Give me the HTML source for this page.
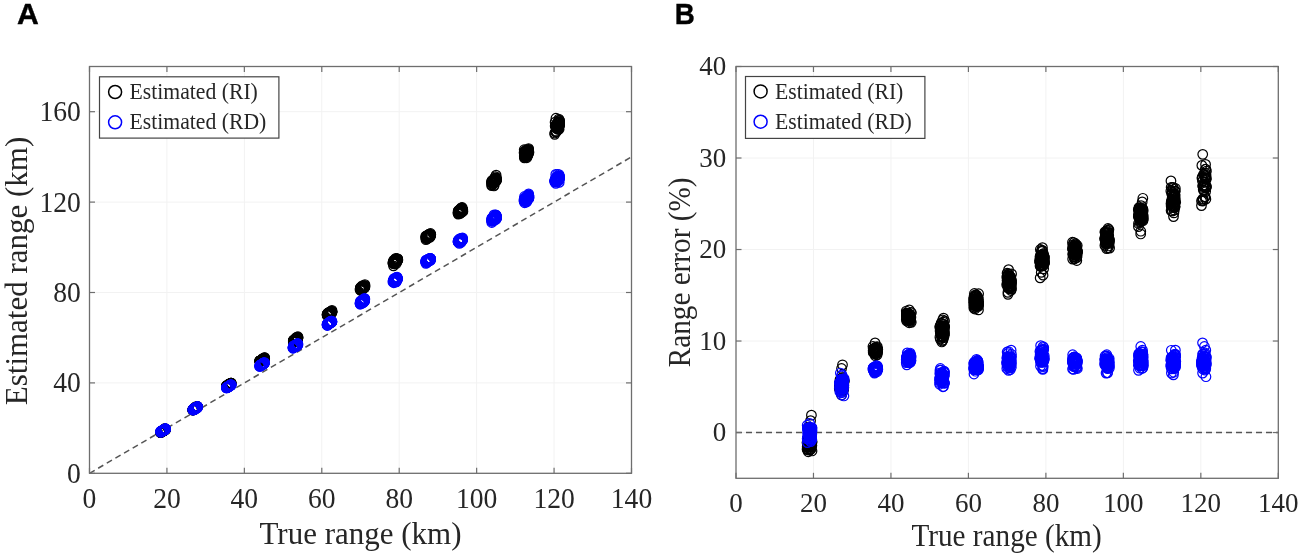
<!DOCTYPE html><html><head><meta charset="utf-8"><style>html,body{margin:0;padding:0;background:#fff;width:1299px;height:559px;overflow:hidden}</style></head><body><svg width="1299" height="559" viewBox="0 0 1299 559" style="display:block;filter:blur(0.4px)">
<rect width="1299" height="559" fill="#fff"/>
<g font-family='"Liberation Serif", serif' fill="#262626">
<line x1="166.93" y1="66.5" x2="166.93" y2="473.3" stroke="#f2f2f2" stroke-width="1"/>
<line x1="244.36" y1="66.5" x2="244.36" y2="473.3" stroke="#f2f2f2" stroke-width="1"/>
<line x1="321.79" y1="66.5" x2="321.79" y2="473.3" stroke="#f2f2f2" stroke-width="1"/>
<line x1="399.21" y1="66.5" x2="399.21" y2="473.3" stroke="#f2f2f2" stroke-width="1"/>
<line x1="476.64" y1="66.5" x2="476.64" y2="473.3" stroke="#f2f2f2" stroke-width="1"/>
<line x1="554.07" y1="66.5" x2="554.07" y2="473.3" stroke="#f2f2f2" stroke-width="1"/>
<line x1="89.5" y1="382.90" x2="631.5" y2="382.90" stroke="#f2f2f2" stroke-width="1"/>
<line x1="89.5" y1="292.50" x2="631.5" y2="292.50" stroke="#f2f2f2" stroke-width="1"/>
<line x1="89.5" y1="202.10" x2="631.5" y2="202.10" stroke="#f2f2f2" stroke-width="1"/>
<line x1="89.5" y1="111.70" x2="631.5" y2="111.70" stroke="#f2f2f2" stroke-width="1"/>
<line x1="89.5" y1="473.3" x2="631.5" y2="156.90" stroke="#555" stroke-width="1.5" stroke-dasharray="6 4"/>
<g fill="none" stroke="#000000" stroke-width="1.2"><circle cx="161.43" cy="431.84" r="4.8"/><circle cx="161.71" cy="431.68" r="4.8"/><circle cx="161.72" cy="432.03" r="4.8"/><circle cx="162.98" cy="430.89" r="4.8"/><circle cx="163.51" cy="430.58" r="4.8"/><circle cx="161.86" cy="431.50" r="4.8"/><circle cx="160.56" cy="432.30" r="4.8"/><circle cx="162.65" cy="430.96" r="4.8"/><circle cx="162.40" cy="431.38" r="4.8"/><circle cx="163.39" cy="430.67" r="4.8"/><circle cx="165.34" cy="429.47" r="4.8"/><circle cx="164.02" cy="430.21" r="4.8"/><circle cx="163.14" cy="430.90" r="4.8"/><circle cx="163.65" cy="430.37" r="4.8"/><circle cx="163.94" cy="430.49" r="4.8"/><circle cx="160.81" cy="432.45" r="4.8"/><circle cx="165.07" cy="429.70" r="4.8"/><circle cx="164.47" cy="430.13" r="4.8"/><circle cx="164.94" cy="429.74" r="4.8"/><circle cx="164.56" cy="430.27" r="4.8"/><circle cx="162.52" cy="431.15" r="4.8"/><circle cx="162.55" cy="431.22" r="4.8"/><circle cx="161.06" cy="431.85" r="4.8"/><circle cx="163.73" cy="430.44" r="4.8"/><circle cx="160.85" cy="431.94" r="4.8"/><circle cx="160.88" cy="432.30" r="4.8"/><circle cx="161.59" cy="431.86" r="4.8"/><circle cx="161.36" cy="431.74" r="4.8"/><circle cx="162.25" cy="431.44" r="4.8"/><circle cx="160.81" cy="432.35" r="4.8"/><circle cx="160.54" cy="432.58" r="4.8"/><circle cx="161.30" cy="431.96" r="4.8"/><circle cx="161.05" cy="431.85" r="4.8"/><circle cx="162.37" cy="430.93" r="4.8"/><circle cx="160.67" cy="432.40" r="4.8"/><circle cx="164.94" cy="429.72" r="4.8"/><circle cx="163.63" cy="430.84" r="4.8"/><circle cx="161.29" cy="432.02" r="4.8"/><circle cx="161.81" cy="431.46" r="4.8"/><circle cx="162.29" cy="431.62" r="4.8"/><circle cx="162.37" cy="431.21" r="4.8"/><circle cx="161.16" cy="431.98" r="4.8"/><circle cx="164.81" cy="430.02" r="4.8"/><circle cx="165.54" cy="429.37" r="4.8"/><circle cx="162.89" cy="430.91" r="4.8"/><circle cx="162.98" cy="430.99" r="4.8"/><circle cx="160.97" cy="432.13" r="4.8"/><circle cx="161.06" cy="431.78" r="4.8"/><circle cx="162.27" cy="431.31" r="4.8"/><circle cx="161.87" cy="431.39" r="4.8"/><circle cx="164.71" cy="430.02" r="4.8"/><circle cx="161.35" cy="431.83" r="4.8"/><circle cx="160.66" cy="432.21" r="4.8"/><circle cx="165.33" cy="429.67" r="4.8"/><circle cx="163.20" cy="430.96" r="4.8"/><circle cx="161.28" cy="431.84" r="4.8"/><circle cx="163.27" cy="430.79" r="4.8"/><circle cx="160.68" cy="432.17" r="4.8"/><circle cx="163.20" cy="430.83" r="4.8"/><circle cx="165.47" cy="429.85" r="4.8"/><circle cx="164.89" cy="428.46" r="4.8"/><circle cx="164.04" cy="429.22" r="4.8"/><circle cx="161.85" cy="430.81" r="4.8"/><circle cx="162.39" cy="430.67" r="4.8"/><circle cx="193.13" cy="409.73" r="4.8"/><circle cx="196.79" cy="407.79" r="4.8"/><circle cx="193.40" cy="409.46" r="4.8"/><circle cx="195.63" cy="408.44" r="4.8"/><circle cx="194.66" cy="408.53" r="4.8"/><circle cx="194.18" cy="408.91" r="4.8"/><circle cx="195.84" cy="408.16" r="4.8"/><circle cx="193.10" cy="409.78" r="4.8"/><circle cx="197.49" cy="406.69" r="4.8"/><circle cx="196.97" cy="407.21" r="4.8"/><circle cx="193.45" cy="409.10" r="4.8"/><circle cx="197.17" cy="407.05" r="4.8"/><circle cx="196.62" cy="407.39" r="4.8"/><circle cx="195.68" cy="407.89" r="4.8"/><circle cx="196.52" cy="407.62" r="4.8"/><circle cx="196.30" cy="407.74" r="4.8"/><circle cx="195.16" cy="408.43" r="4.8"/><circle cx="194.10" cy="409.21" r="4.8"/><circle cx="195.79" cy="408.29" r="4.8"/><circle cx="193.40" cy="409.36" r="4.8"/><circle cx="196.82" cy="407.28" r="4.8"/><circle cx="196.27" cy="407.64" r="4.8"/><circle cx="195.26" cy="408.38" r="4.8"/><circle cx="194.83" cy="408.70" r="4.8"/><circle cx="196.20" cy="407.80" r="4.8"/><circle cx="195.22" cy="408.43" r="4.8"/><circle cx="197.25" cy="407.31" r="4.8"/><circle cx="196.46" cy="407.28" r="4.8"/><circle cx="195.53" cy="407.69" r="4.8"/><circle cx="196.76" cy="407.73" r="4.8"/><circle cx="192.75" cy="410.14" r="4.8"/><circle cx="196.13" cy="407.76" r="4.8"/><circle cx="196.69" cy="407.60" r="4.8"/><circle cx="196.25" cy="407.53" r="4.8"/><circle cx="197.49" cy="406.73" r="4.8"/><circle cx="195.91" cy="408.07" r="4.8"/><circle cx="193.10" cy="409.56" r="4.8"/><circle cx="192.88" cy="409.72" r="4.8"/><circle cx="195.88" cy="408.17" r="4.8"/><circle cx="197.50" cy="406.77" r="4.8"/><circle cx="194.57" cy="408.75" r="4.8"/><circle cx="194.95" cy="409.22" r="4.8"/><circle cx="192.93" cy="409.77" r="4.8"/><circle cx="192.77" cy="410.01" r="4.8"/><circle cx="195.35" cy="408.48" r="4.8"/><circle cx="193.90" cy="408.90" r="4.8"/><circle cx="194.00" cy="409.18" r="4.8"/><circle cx="194.97" cy="408.57" r="4.8"/><circle cx="193.03" cy="409.89" r="4.8"/><circle cx="197.37" cy="406.73" r="4.8"/><circle cx="197.19" cy="406.84" r="4.8"/><circle cx="193.14" cy="409.61" r="4.8"/><circle cx="195.32" cy="408.41" r="4.8"/><circle cx="196.43" cy="407.99" r="4.8"/><circle cx="195.06" cy="408.72" r="4.8"/><circle cx="196.75" cy="407.64" r="4.8"/><circle cx="196.93" cy="407.60" r="4.8"/><circle cx="193.86" cy="409.44" r="4.8"/><circle cx="196.48" cy="407.60" r="4.8"/><circle cx="193.83" cy="409.28" r="4.8"/><circle cx="195.94" cy="406.56" r="4.8"/><circle cx="194.99" cy="407.41" r="4.8"/><circle cx="226.80" cy="385.83" r="4.8"/><circle cx="229.90" cy="383.98" r="4.8"/><circle cx="227.34" cy="385.64" r="4.8"/><circle cx="229.08" cy="384.29" r="4.8"/><circle cx="228.60" cy="384.92" r="4.8"/><circle cx="227.98" cy="385.49" r="4.8"/><circle cx="230.07" cy="384.08" r="4.8"/><circle cx="228.74" cy="384.84" r="4.8"/><circle cx="229.53" cy="384.42" r="4.8"/><circle cx="227.60" cy="385.44" r="4.8"/><circle cx="229.50" cy="384.33" r="4.8"/><circle cx="228.39" cy="384.74" r="4.8"/><circle cx="228.25" cy="384.97" r="4.8"/><circle cx="228.69" cy="385.22" r="4.8"/><circle cx="230.40" cy="383.81" r="4.8"/><circle cx="226.67" cy="386.22" r="4.8"/><circle cx="227.34" cy="385.81" r="4.8"/><circle cx="226.67" cy="385.92" r="4.8"/><circle cx="229.40" cy="384.40" r="4.8"/><circle cx="228.18" cy="384.97" r="4.8"/><circle cx="228.04" cy="385.27" r="4.8"/><circle cx="231.16" cy="383.11" r="4.8"/><circle cx="226.57" cy="386.12" r="4.8"/><circle cx="230.11" cy="383.86" r="4.8"/><circle cx="229.83" cy="383.84" r="4.8"/><circle cx="231.01" cy="383.38" r="4.8"/><circle cx="227.85" cy="385.28" r="4.8"/><circle cx="229.99" cy="384.11" r="4.8"/><circle cx="229.35" cy="384.39" r="4.8"/><circle cx="230.41" cy="383.71" r="4.8"/><circle cx="231.12" cy="383.11" r="4.8"/><circle cx="226.68" cy="385.88" r="4.8"/><circle cx="230.51" cy="383.99" r="4.8"/><circle cx="226.89" cy="385.95" r="4.8"/><circle cx="229.96" cy="384.04" r="4.8"/><circle cx="228.70" cy="384.66" r="4.8"/><circle cx="230.26" cy="383.87" r="4.8"/><circle cx="230.33" cy="383.83" r="4.8"/><circle cx="230.95" cy="383.52" r="4.8"/><circle cx="230.46" cy="383.54" r="4.8"/><circle cx="227.02" cy="385.97" r="4.8"/><circle cx="228.85" cy="384.98" r="4.8"/><circle cx="226.40" cy="385.87" r="4.8"/><circle cx="231.04" cy="383.15" r="4.8"/><circle cx="227.88" cy="385.45" r="4.8"/><circle cx="229.84" cy="384.08" r="4.8"/><circle cx="227.12" cy="385.86" r="4.8"/><circle cx="227.54" cy="385.42" r="4.8"/><circle cx="230.69" cy="383.14" r="4.8"/><circle cx="228.67" cy="384.80" r="4.8"/><circle cx="230.30" cy="383.80" r="4.8"/><circle cx="229.35" cy="384.39" r="4.8"/><circle cx="228.93" cy="384.38" r="4.8"/><circle cx="228.33" cy="385.05" r="4.8"/><circle cx="227.16" cy="385.76" r="4.8"/><circle cx="228.41" cy="385.11" r="4.8"/><circle cx="229.62" cy="383.87" r="4.8"/><circle cx="228.78" cy="384.86" r="4.8"/><circle cx="229.10" cy="384.75" r="4.8"/><circle cx="227.16" cy="385.77" r="4.8"/><circle cx="228.50" cy="384.20" r="4.8"/><circle cx="262.28" cy="359.52" r="4.8"/><circle cx="262.34" cy="359.61" r="4.8"/><circle cx="261.73" cy="360.18" r="4.8"/><circle cx="261.16" cy="360.73" r="4.8"/><circle cx="260.32" cy="361.04" r="4.8"/><circle cx="261.49" cy="360.32" r="4.8"/><circle cx="263.82" cy="358.63" r="4.8"/><circle cx="260.45" cy="361.20" r="4.8"/><circle cx="259.72" cy="361.62" r="4.8"/><circle cx="263.68" cy="358.90" r="4.8"/><circle cx="263.21" cy="358.82" r="4.8"/><circle cx="261.92" cy="359.74" r="4.8"/><circle cx="259.97" cy="360.80" r="4.8"/><circle cx="260.38" cy="360.87" r="4.8"/><circle cx="263.00" cy="359.57" r="4.8"/><circle cx="261.01" cy="360.32" r="4.8"/><circle cx="263.73" cy="358.63" r="4.8"/><circle cx="264.52" cy="357.73" r="4.8"/><circle cx="259.93" cy="361.15" r="4.8"/><circle cx="263.78" cy="359.06" r="4.8"/><circle cx="264.14" cy="358.95" r="4.8"/><circle cx="262.64" cy="358.68" r="4.8"/><circle cx="262.56" cy="360.15" r="4.8"/><circle cx="262.68" cy="359.10" r="4.8"/><circle cx="262.25" cy="359.79" r="4.8"/><circle cx="262.13" cy="359.62" r="4.8"/><circle cx="260.48" cy="360.84" r="4.8"/><circle cx="259.65" cy="360.78" r="4.8"/><circle cx="259.96" cy="361.04" r="4.8"/><circle cx="259.78" cy="360.89" r="4.8"/><circle cx="260.58" cy="360.63" r="4.8"/><circle cx="260.45" cy="360.59" r="4.8"/><circle cx="264.24" cy="358.39" r="4.8"/><circle cx="260.18" cy="360.89" r="4.8"/><circle cx="262.73" cy="359.79" r="4.8"/><circle cx="262.95" cy="359.58" r="4.8"/><circle cx="260.64" cy="360.56" r="4.8"/><circle cx="261.73" cy="360.12" r="4.8"/><circle cx="262.26" cy="359.80" r="4.8"/><circle cx="262.88" cy="359.53" r="4.8"/><circle cx="262.91" cy="359.41" r="4.8"/><circle cx="261.74" cy="360.14" r="4.8"/><circle cx="262.74" cy="359.64" r="4.8"/><circle cx="262.21" cy="359.62" r="4.8"/><circle cx="259.97" cy="360.88" r="4.8"/><circle cx="262.80" cy="359.74" r="4.8"/><circle cx="264.65" cy="357.67" r="4.8"/><circle cx="263.29" cy="358.75" r="4.8"/><circle cx="262.05" cy="359.62" r="4.8"/><circle cx="262.36" cy="359.32" r="4.8"/><circle cx="261.54" cy="359.83" r="4.8"/><circle cx="261.85" cy="360.37" r="4.8"/><circle cx="264.24" cy="358.51" r="4.8"/><circle cx="260.05" cy="361.60" r="4.8"/><circle cx="262.95" cy="359.55" r="4.8"/><circle cx="260.53" cy="360.83" r="4.8"/><circle cx="264.67" cy="358.73" r="4.8"/><circle cx="260.97" cy="360.24" r="4.8"/><circle cx="262.89" cy="359.41" r="4.8"/><circle cx="260.27" cy="360.98" r="4.8"/><circle cx="293.49" cy="340.99" r="4.8"/><circle cx="294.47" cy="340.11" r="4.8"/><circle cx="294.96" cy="339.05" r="4.8"/><circle cx="297.74" cy="338.61" r="4.8"/><circle cx="297.83" cy="338.23" r="4.8"/><circle cx="297.95" cy="337.68" r="4.8"/><circle cx="297.78" cy="337.60" r="4.8"/><circle cx="295.27" cy="340.15" r="4.8"/><circle cx="293.77" cy="340.11" r="4.8"/><circle cx="297.62" cy="338.92" r="4.8"/><circle cx="293.29" cy="341.94" r="4.8"/><circle cx="296.96" cy="337.59" r="4.8"/><circle cx="293.92" cy="340.46" r="4.8"/><circle cx="296.18" cy="340.04" r="4.8"/><circle cx="296.57" cy="338.11" r="4.8"/><circle cx="297.04" cy="338.98" r="4.8"/><circle cx="293.68" cy="341.94" r="4.8"/><circle cx="296.30" cy="340.37" r="4.8"/><circle cx="297.12" cy="338.01" r="4.8"/><circle cx="296.95" cy="338.40" r="4.8"/><circle cx="295.02" cy="340.86" r="4.8"/><circle cx="297.96" cy="336.76" r="4.8"/><circle cx="296.77" cy="339.28" r="4.8"/><circle cx="296.21" cy="338.63" r="4.8"/><circle cx="296.87" cy="338.97" r="4.8"/><circle cx="295.31" cy="340.50" r="4.8"/><circle cx="296.89" cy="337.93" r="4.8"/><circle cx="294.10" cy="340.28" r="4.8"/><circle cx="296.49" cy="339.94" r="4.8"/><circle cx="296.40" cy="338.91" r="4.8"/><circle cx="297.89" cy="337.52" r="4.8"/><circle cx="296.36" cy="339.40" r="4.8"/><circle cx="295.37" cy="339.35" r="4.8"/><circle cx="297.00" cy="339.62" r="4.8"/><circle cx="296.96" cy="339.21" r="4.8"/><circle cx="294.75" cy="339.84" r="4.8"/><circle cx="296.24" cy="339.49" r="4.8"/><circle cx="294.56" cy="339.27" r="4.8"/><circle cx="295.38" cy="339.90" r="4.8"/><circle cx="296.08" cy="339.41" r="4.8"/><circle cx="293.37" cy="340.50" r="4.8"/><circle cx="297.46" cy="337.88" r="4.8"/><circle cx="293.71" cy="341.14" r="4.8"/><circle cx="294.47" cy="340.30" r="4.8"/><circle cx="294.88" cy="340.71" r="4.8"/><circle cx="293.37" cy="340.69" r="4.8"/><circle cx="295.79" cy="340.84" r="4.8"/><circle cx="294.58" cy="340.30" r="4.8"/><circle cx="297.69" cy="338.68" r="4.8"/><circle cx="295.61" cy="339.21" r="4.8"/><circle cx="294.68" cy="340.56" r="4.8"/><circle cx="295.87" cy="339.18" r="4.8"/><circle cx="296.25" cy="339.66" r="4.8"/><circle cx="294.00" cy="340.73" r="4.8"/><circle cx="293.31" cy="340.54" r="4.8"/><circle cx="294.42" cy="340.69" r="4.8"/><circle cx="296.00" cy="337.92" r="4.8"/><circle cx="295.86" cy="338.76" r="4.8"/><circle cx="297.24" cy="338.76" r="4.8"/><circle cx="293.88" cy="340.59" r="4.8"/><circle cx="295.22" cy="341.32" r="4.8"/><circle cx="296.89" cy="337.10" r="4.8"/><circle cx="328.89" cy="314.13" r="4.8"/><circle cx="327.55" cy="314.53" r="4.8"/><circle cx="330.20" cy="313.36" r="4.8"/><circle cx="330.97" cy="312.79" r="4.8"/><circle cx="327.80" cy="313.05" r="4.8"/><circle cx="330.02" cy="312.76" r="4.8"/><circle cx="328.75" cy="313.27" r="4.8"/><circle cx="329.63" cy="313.41" r="4.8"/><circle cx="327.12" cy="314.39" r="4.8"/><circle cx="327.18" cy="314.78" r="4.8"/><circle cx="332.00" cy="311.79" r="4.8"/><circle cx="331.37" cy="311.71" r="4.8"/><circle cx="329.46" cy="312.93" r="4.8"/><circle cx="329.87" cy="311.89" r="4.8"/><circle cx="328.33" cy="313.55" r="4.8"/><circle cx="330.93" cy="311.96" r="4.8"/><circle cx="329.16" cy="313.63" r="4.8"/><circle cx="331.78" cy="311.32" r="4.8"/><circle cx="330.87" cy="311.89" r="4.8"/><circle cx="331.13" cy="312.13" r="4.8"/><circle cx="331.86" cy="312.16" r="4.8"/><circle cx="328.29" cy="313.04" r="4.8"/><circle cx="327.20" cy="314.28" r="4.8"/><circle cx="328.02" cy="313.29" r="4.8"/><circle cx="327.92" cy="313.52" r="4.8"/><circle cx="327.43" cy="314.67" r="4.8"/><circle cx="327.27" cy="315.02" r="4.8"/><circle cx="329.82" cy="312.65" r="4.8"/><circle cx="331.39" cy="311.83" r="4.8"/><circle cx="329.32" cy="313.69" r="4.8"/><circle cx="331.78" cy="312.05" r="4.8"/><circle cx="331.59" cy="311.73" r="4.8"/><circle cx="327.34" cy="314.53" r="4.8"/><circle cx="330.02" cy="311.89" r="4.8"/><circle cx="329.01" cy="314.13" r="4.8"/><circle cx="327.62" cy="315.23" r="4.8"/><circle cx="331.84" cy="312.87" r="4.8"/><circle cx="328.31" cy="313.64" r="4.8"/><circle cx="329.85" cy="313.21" r="4.8"/><circle cx="330.24" cy="313.05" r="4.8"/><circle cx="331.83" cy="311.84" r="4.8"/><circle cx="330.38" cy="312.46" r="4.8"/><circle cx="328.99" cy="313.31" r="4.8"/><circle cx="329.27" cy="313.29" r="4.8"/><circle cx="327.82" cy="314.01" r="4.8"/><circle cx="331.87" cy="311.89" r="4.8"/><circle cx="332.00" cy="311.77" r="4.8"/><circle cx="328.13" cy="314.68" r="4.8"/><circle cx="327.21" cy="315.66" r="4.8"/><circle cx="328.30" cy="315.07" r="4.8"/><circle cx="328.78" cy="312.59" r="4.8"/><circle cx="331.56" cy="311.15" r="4.8"/><circle cx="331.56" cy="312.51" r="4.8"/><circle cx="331.23" cy="312.11" r="4.8"/><circle cx="327.25" cy="315.24" r="4.8"/><circle cx="330.97" cy="312.37" r="4.8"/><circle cx="330.58" cy="312.85" r="4.8"/><circle cx="330.27" cy="312.03" r="4.8"/><circle cx="331.97" cy="310.28" r="4.8"/><circle cx="327.29" cy="313.95" r="4.8"/><circle cx="360.87" cy="287.76" r="4.8"/><circle cx="362.67" cy="287.13" r="4.8"/><circle cx="364.80" cy="285.88" r="4.8"/><circle cx="361.91" cy="285.97" r="4.8"/><circle cx="364.57" cy="287.16" r="4.8"/><circle cx="360.74" cy="288.97" r="4.8"/><circle cx="364.71" cy="286.55" r="4.8"/><circle cx="361.55" cy="288.44" r="4.8"/><circle cx="361.56" cy="287.79" r="4.8"/><circle cx="361.28" cy="289.54" r="4.8"/><circle cx="364.34" cy="287.21" r="4.8"/><circle cx="361.01" cy="288.56" r="4.8"/><circle cx="360.21" cy="288.41" r="4.8"/><circle cx="360.03" cy="289.85" r="4.8"/><circle cx="362.69" cy="288.69" r="4.8"/><circle cx="362.97" cy="286.62" r="4.8"/><circle cx="361.67" cy="286.85" r="4.8"/><circle cx="363.23" cy="287.35" r="4.8"/><circle cx="362.52" cy="288.37" r="4.8"/><circle cx="364.12" cy="287.69" r="4.8"/><circle cx="361.70" cy="289.04" r="4.8"/><circle cx="363.76" cy="286.29" r="4.8"/><circle cx="362.54" cy="288.08" r="4.8"/><circle cx="364.90" cy="287.34" r="4.8"/><circle cx="363.33" cy="287.75" r="4.8"/><circle cx="364.62" cy="286.57" r="4.8"/><circle cx="362.02" cy="286.67" r="4.8"/><circle cx="363.28" cy="286.30" r="4.8"/><circle cx="360.63" cy="289.31" r="4.8"/><circle cx="360.94" cy="289.03" r="4.8"/><circle cx="362.99" cy="287.40" r="4.8"/><circle cx="361.31" cy="287.37" r="4.8"/><circle cx="364.14" cy="286.31" r="4.8"/><circle cx="360.40" cy="288.87" r="4.8"/><circle cx="364.23" cy="288.03" r="4.8"/><circle cx="364.56" cy="285.97" r="4.8"/><circle cx="364.93" cy="284.65" r="4.8"/><circle cx="361.27" cy="290.34" r="4.8"/><circle cx="363.09" cy="286.44" r="4.8"/><circle cx="363.10" cy="286.27" r="4.8"/><circle cx="363.46" cy="286.67" r="4.8"/><circle cx="362.00" cy="288.02" r="4.8"/><circle cx="360.44" cy="287.59" r="4.8"/><circle cx="361.98" cy="289.04" r="4.8"/><circle cx="362.69" cy="287.36" r="4.8"/><circle cx="360.51" cy="288.03" r="4.8"/><circle cx="361.92" cy="289.04" r="4.8"/><circle cx="364.92" cy="286.12" r="4.8"/><circle cx="360.67" cy="289.14" r="4.8"/><circle cx="364.20" cy="285.70" r="4.8"/><circle cx="361.33" cy="290.66" r="4.8"/><circle cx="363.05" cy="288.45" r="4.8"/><circle cx="360.48" cy="288.41" r="4.8"/><circle cx="364.21" cy="286.35" r="4.8"/><circle cx="363.41" cy="286.77" r="4.8"/><circle cx="361.37" cy="287.34" r="4.8"/><circle cx="361.69" cy="288.19" r="4.8"/><circle cx="361.70" cy="287.81" r="4.8"/><circle cx="362.57" cy="288.09" r="4.8"/><circle cx="362.92" cy="288.61" r="4.8"/><circle cx="397.54" cy="258.93" r="4.8"/><circle cx="393.39" cy="263.60" r="4.8"/><circle cx="396.67" cy="259.00" r="4.8"/><circle cx="396.13" cy="261.50" r="4.8"/><circle cx="397.36" cy="260.38" r="4.8"/><circle cx="397.23" cy="259.04" r="4.8"/><circle cx="395.77" cy="260.33" r="4.8"/><circle cx="396.33" cy="259.46" r="4.8"/><circle cx="397.73" cy="258.91" r="4.8"/><circle cx="396.25" cy="260.81" r="4.8"/><circle cx="393.01" cy="263.13" r="4.8"/><circle cx="394.43" cy="261.42" r="4.8"/><circle cx="396.74" cy="261.19" r="4.8"/><circle cx="394.57" cy="264.05" r="4.8"/><circle cx="397.42" cy="259.37" r="4.8"/><circle cx="394.93" cy="261.72" r="4.8"/><circle cx="396.57" cy="259.00" r="4.8"/><circle cx="397.85" cy="259.97" r="4.8"/><circle cx="395.92" cy="258.92" r="4.8"/><circle cx="393.94" cy="261.49" r="4.8"/><circle cx="395.48" cy="260.87" r="4.8"/><circle cx="394.58" cy="262.62" r="4.8"/><circle cx="397.61" cy="259.56" r="4.8"/><circle cx="395.05" cy="260.74" r="4.8"/><circle cx="394.54" cy="262.09" r="4.8"/><circle cx="395.36" cy="261.45" r="4.8"/><circle cx="396.29" cy="259.77" r="4.8"/><circle cx="397.05" cy="260.07" r="4.8"/><circle cx="395.98" cy="260.33" r="4.8"/><circle cx="395.39" cy="262.20" r="4.8"/><circle cx="396.23" cy="260.88" r="4.8"/><circle cx="393.86" cy="261.79" r="4.8"/><circle cx="396.21" cy="260.19" r="4.8"/><circle cx="397.09" cy="259.73" r="4.8"/><circle cx="396.74" cy="259.99" r="4.8"/><circle cx="395.29" cy="261.63" r="4.8"/><circle cx="393.78" cy="262.73" r="4.8"/><circle cx="397.62" cy="259.71" r="4.8"/><circle cx="396.98" cy="261.69" r="4.8"/><circle cx="395.64" cy="261.43" r="4.8"/><circle cx="393.70" cy="261.89" r="4.8"/><circle cx="393.65" cy="261.41" r="4.8"/><circle cx="396.76" cy="259.52" r="4.8"/><circle cx="394.01" cy="262.91" r="4.8"/><circle cx="394.14" cy="263.19" r="4.8"/><circle cx="397.68" cy="260.03" r="4.8"/><circle cx="393.67" cy="260.22" r="4.8"/><circle cx="394.57" cy="259.95" r="4.8"/><circle cx="393.29" cy="261.93" r="4.8"/><circle cx="396.03" cy="260.93" r="4.8"/><circle cx="393.52" cy="262.95" r="4.8"/><circle cx="396.28" cy="260.50" r="4.8"/><circle cx="395.27" cy="262.03" r="4.8"/><circle cx="395.26" cy="259.22" r="4.8"/><circle cx="396.38" cy="261.40" r="4.8"/><circle cx="392.86" cy="262.93" r="4.8"/><circle cx="396.31" cy="259.49" r="4.8"/><circle cx="393.50" cy="262.73" r="4.8"/><circle cx="396.05" cy="259.71" r="4.8"/><circle cx="396.34" cy="259.67" r="4.8"/><circle cx="393.50" cy="265.85" r="4.8"/><circle cx="396.39" cy="263.34" r="4.8"/><circle cx="395.78" cy="258.39" r="4.8"/><circle cx="425.84" cy="237.48" r="4.8"/><circle cx="428.05" cy="235.83" r="4.8"/><circle cx="430.70" cy="234.57" r="4.8"/><circle cx="425.96" cy="239.66" r="4.8"/><circle cx="426.47" cy="238.29" r="4.8"/><circle cx="429.11" cy="235.66" r="4.8"/><circle cx="427.11" cy="235.32" r="4.8"/><circle cx="427.11" cy="237.45" r="4.8"/><circle cx="428.25" cy="236.04" r="4.8"/><circle cx="427.05" cy="236.41" r="4.8"/><circle cx="428.60" cy="235.22" r="4.8"/><circle cx="428.39" cy="236.36" r="4.8"/><circle cx="430.55" cy="233.51" r="4.8"/><circle cx="430.73" cy="234.84" r="4.8"/><circle cx="425.91" cy="237.57" r="4.8"/><circle cx="428.56" cy="235.88" r="4.8"/><circle cx="429.61" cy="234.27" r="4.8"/><circle cx="430.12" cy="234.97" r="4.8"/><circle cx="429.63" cy="234.37" r="4.8"/><circle cx="428.92" cy="235.68" r="4.8"/><circle cx="428.93" cy="234.27" r="4.8"/><circle cx="427.56" cy="235.69" r="4.8"/><circle cx="427.15" cy="237.56" r="4.8"/><circle cx="429.74" cy="236.17" r="4.8"/><circle cx="430.13" cy="236.44" r="4.8"/><circle cx="430.46" cy="234.78" r="4.8"/><circle cx="429.16" cy="236.58" r="4.8"/><circle cx="427.26" cy="236.14" r="4.8"/><circle cx="429.58" cy="235.39" r="4.8"/><circle cx="429.46" cy="235.14" r="4.8"/><circle cx="428.29" cy="235.34" r="4.8"/><circle cx="428.93" cy="235.87" r="4.8"/><circle cx="427.50" cy="236.51" r="4.8"/><circle cx="428.51" cy="235.88" r="4.8"/><circle cx="427.78" cy="238.34" r="4.8"/><circle cx="426.04" cy="236.57" r="4.8"/><circle cx="427.43" cy="237.60" r="4.8"/><circle cx="427.36" cy="237.09" r="4.8"/><circle cx="430.71" cy="234.81" r="4.8"/><circle cx="428.16" cy="237.12" r="4.8"/><circle cx="427.58" cy="237.99" r="4.8"/><circle cx="426.96" cy="236.82" r="4.8"/><circle cx="426.92" cy="236.08" r="4.8"/><circle cx="427.49" cy="236.67" r="4.8"/><circle cx="426.42" cy="238.11" r="4.8"/><circle cx="425.77" cy="236.17" r="4.8"/><circle cx="430.12" cy="237.08" r="4.8"/><circle cx="428.01" cy="236.67" r="4.8"/><circle cx="427.98" cy="237.19" r="4.8"/><circle cx="428.60" cy="236.11" r="4.8"/><circle cx="427.26" cy="237.65" r="4.8"/><circle cx="426.58" cy="236.89" r="4.8"/><circle cx="426.07" cy="238.57" r="4.8"/><circle cx="427.25" cy="236.05" r="4.8"/><circle cx="427.29" cy="238.36" r="4.8"/><circle cx="429.39" cy="235.66" r="4.8"/><circle cx="428.51" cy="234.77" r="4.8"/><circle cx="430.45" cy="235.36" r="4.8"/><circle cx="427.45" cy="236.30" r="4.8"/><circle cx="430.37" cy="235.90" r="4.8"/><circle cx="459.65" cy="211.42" r="4.8"/><circle cx="458.19" cy="214.06" r="4.8"/><circle cx="462.78" cy="209.75" r="4.8"/><circle cx="459.21" cy="212.58" r="4.8"/><circle cx="461.19" cy="212.58" r="4.8"/><circle cx="462.02" cy="209.09" r="4.8"/><circle cx="458.23" cy="210.84" r="4.8"/><circle cx="461.88" cy="207.91" r="4.8"/><circle cx="461.21" cy="208.95" r="4.8"/><circle cx="462.52" cy="210.53" r="4.8"/><circle cx="461.72" cy="209.27" r="4.8"/><circle cx="459.19" cy="211.07" r="4.8"/><circle cx="462.10" cy="211.44" r="4.8"/><circle cx="462.18" cy="210.37" r="4.8"/><circle cx="459.62" cy="211.51" r="4.8"/><circle cx="460.83" cy="210.46" r="4.8"/><circle cx="460.74" cy="210.57" r="4.8"/><circle cx="462.90" cy="211.39" r="4.8"/><circle cx="458.20" cy="212.43" r="4.8"/><circle cx="461.68" cy="209.37" r="4.8"/><circle cx="459.70" cy="209.67" r="4.8"/><circle cx="458.90" cy="212.92" r="4.8"/><circle cx="458.72" cy="212.12" r="4.8"/><circle cx="459.71" cy="210.26" r="4.8"/><circle cx="461.26" cy="207.89" r="4.8"/><circle cx="458.63" cy="213.34" r="4.8"/><circle cx="461.20" cy="209.38" r="4.8"/><circle cx="458.76" cy="211.62" r="4.8"/><circle cx="462.63" cy="209.48" r="4.8"/><circle cx="462.17" cy="210.39" r="4.8"/><circle cx="461.15" cy="210.36" r="4.8"/><circle cx="462.45" cy="209.76" r="4.8"/><circle cx="459.49" cy="211.31" r="4.8"/><circle cx="459.69" cy="212.26" r="4.8"/><circle cx="462.21" cy="207.45" r="4.8"/><circle cx="460.02" cy="212.33" r="4.8"/><circle cx="459.93" cy="213.59" r="4.8"/><circle cx="461.40" cy="210.27" r="4.8"/><circle cx="459.75" cy="210.04" r="4.8"/><circle cx="459.70" cy="210.07" r="4.8"/><circle cx="461.20" cy="211.30" r="4.8"/><circle cx="460.50" cy="208.90" r="4.8"/><circle cx="459.39" cy="211.15" r="4.8"/><circle cx="461.20" cy="209.91" r="4.8"/><circle cx="459.25" cy="211.38" r="4.8"/><circle cx="459.33" cy="212.40" r="4.8"/><circle cx="460.11" cy="211.03" r="4.8"/><circle cx="458.43" cy="210.86" r="4.8"/><circle cx="461.06" cy="209.75" r="4.8"/><circle cx="461.54" cy="208.65" r="4.8"/><circle cx="458.74" cy="210.75" r="4.8"/><circle cx="460.47" cy="210.26" r="4.8"/><circle cx="457.90" cy="212.71" r="4.8"/><circle cx="458.52" cy="211.63" r="4.8"/><circle cx="460.33" cy="210.73" r="4.8"/><circle cx="461.19" cy="211.31" r="4.8"/><circle cx="461.00" cy="209.98" r="4.8"/><circle cx="460.50" cy="211.59" r="4.8"/><circle cx="461.90" cy="210.71" r="4.8"/><circle cx="459.14" cy="212.82" r="4.8"/><circle cx="494.10" cy="181.76" r="4.8"/><circle cx="493.39" cy="180.61" r="4.8"/><circle cx="492.54" cy="182.54" r="4.8"/><circle cx="493.58" cy="180.43" r="4.8"/><circle cx="492.57" cy="181.92" r="4.8"/><circle cx="492.19" cy="180.45" r="4.8"/><circle cx="492.76" cy="181.15" r="4.8"/><circle cx="495.93" cy="178.41" r="4.8"/><circle cx="494.07" cy="180.02" r="4.8"/><circle cx="496.03" cy="178.08" r="4.8"/><circle cx="491.62" cy="183.17" r="4.8"/><circle cx="496.30" cy="180.83" r="4.8"/><circle cx="494.01" cy="182.36" r="4.8"/><circle cx="495.53" cy="180.45" r="4.8"/><circle cx="494.42" cy="178.30" r="4.8"/><circle cx="495.02" cy="180.25" r="4.8"/><circle cx="492.70" cy="182.33" r="4.8"/><circle cx="495.32" cy="178.87" r="4.8"/><circle cx="492.32" cy="180.96" r="4.8"/><circle cx="492.88" cy="180.07" r="4.8"/><circle cx="491.70" cy="185.68" r="4.8"/><circle cx="493.53" cy="182.17" r="4.8"/><circle cx="494.16" cy="182.44" r="4.8"/><circle cx="493.02" cy="183.67" r="4.8"/><circle cx="496.03" cy="177.95" r="4.8"/><circle cx="491.97" cy="181.09" r="4.8"/><circle cx="494.46" cy="181.32" r="4.8"/><circle cx="492.73" cy="181.48" r="4.8"/><circle cx="494.54" cy="180.69" r="4.8"/><circle cx="495.49" cy="179.91" r="4.8"/><circle cx="495.13" cy="179.47" r="4.8"/><circle cx="491.86" cy="182.54" r="4.8"/><circle cx="492.78" cy="182.74" r="4.8"/><circle cx="494.56" cy="179.26" r="4.8"/><circle cx="496.49" cy="179.35" r="4.8"/><circle cx="491.76" cy="184.83" r="4.8"/><circle cx="494.66" cy="181.71" r="4.8"/><circle cx="495.03" cy="178.61" r="4.8"/><circle cx="495.65" cy="180.07" r="4.8"/><circle cx="493.27" cy="180.69" r="4.8"/><circle cx="495.63" cy="179.91" r="4.8"/><circle cx="493.87" cy="179.59" r="4.8"/><circle cx="496.18" cy="179.90" r="4.8"/><circle cx="491.60" cy="181.42" r="4.8"/><circle cx="496.28" cy="180.33" r="4.8"/><circle cx="493.62" cy="182.20" r="4.8"/><circle cx="493.60" cy="183.06" r="4.8"/><circle cx="491.99" cy="182.26" r="4.8"/><circle cx="492.78" cy="181.43" r="4.8"/><circle cx="495.24" cy="181.42" r="4.8"/><circle cx="494.96" cy="180.01" r="4.8"/><circle cx="492.31" cy="182.66" r="4.8"/><circle cx="493.28" cy="180.25" r="4.8"/><circle cx="492.25" cy="182.73" r="4.8"/><circle cx="492.55" cy="181.29" r="4.8"/><circle cx="492.65" cy="181.90" r="4.8"/><circle cx="493.21" cy="182.75" r="4.8"/><circle cx="496.46" cy="178.13" r="4.8"/><circle cx="496.57" cy="180.14" r="4.8"/><circle cx="495.53" cy="179.48" r="4.8"/><circle cx="493.96" cy="185.95" r="4.8"/><circle cx="494.05" cy="185.18" r="4.8"/><circle cx="495.47" cy="176.59" r="4.8"/><circle cx="496.12" cy="175.16" r="4.8"/><circle cx="527.45" cy="152.72" r="4.8"/><circle cx="527.86" cy="153.69" r="4.8"/><circle cx="526.59" cy="149.85" r="4.8"/><circle cx="528.59" cy="149.35" r="4.8"/><circle cx="528.59" cy="148.57" r="4.8"/><circle cx="527.81" cy="154.45" r="4.8"/><circle cx="528.20" cy="154.16" r="4.8"/><circle cx="527.33" cy="154.34" r="4.8"/><circle cx="528.49" cy="151.49" r="4.8"/><circle cx="524.73" cy="155.57" r="4.8"/><circle cx="527.61" cy="152.13" r="4.8"/><circle cx="527.61" cy="153.49" r="4.8"/><circle cx="527.15" cy="156.50" r="4.8"/><circle cx="525.45" cy="157.22" r="4.8"/><circle cx="524.41" cy="151.38" r="4.8"/><circle cx="527.10" cy="155.05" r="4.8"/><circle cx="528.22" cy="152.08" r="4.8"/><circle cx="525.44" cy="154.59" r="4.8"/><circle cx="525.14" cy="154.21" r="4.8"/><circle cx="525.19" cy="152.82" r="4.8"/><circle cx="524.54" cy="155.23" r="4.8"/><circle cx="527.47" cy="151.10" r="4.8"/><circle cx="528.97" cy="152.22" r="4.8"/><circle cx="528.10" cy="152.83" r="4.8"/><circle cx="525.88" cy="155.39" r="4.8"/><circle cx="527.59" cy="155.42" r="4.8"/><circle cx="524.43" cy="156.56" r="4.8"/><circle cx="528.29" cy="153.85" r="4.8"/><circle cx="525.70" cy="150.46" r="4.8"/><circle cx="524.09" cy="152.63" r="4.8"/><circle cx="527.23" cy="151.92" r="4.8"/><circle cx="524.77" cy="155.22" r="4.8"/><circle cx="525.45" cy="151.86" r="4.8"/><circle cx="524.37" cy="157.88" r="4.8"/><circle cx="526.31" cy="152.32" r="4.8"/><circle cx="526.86" cy="153.94" r="4.8"/><circle cx="528.13" cy="153.93" r="4.8"/><circle cx="524.27" cy="156.01" r="4.8"/><circle cx="528.23" cy="150.63" r="4.8"/><circle cx="524.62" cy="156.25" r="4.8"/><circle cx="525.20" cy="152.09" r="4.8"/><circle cx="527.24" cy="150.99" r="4.8"/><circle cx="525.78" cy="153.27" r="4.8"/><circle cx="525.73" cy="153.79" r="4.8"/><circle cx="526.93" cy="151.47" r="4.8"/><circle cx="525.16" cy="152.58" r="4.8"/><circle cx="528.06" cy="150.63" r="4.8"/><circle cx="525.12" cy="155.07" r="4.8"/><circle cx="528.29" cy="150.95" r="4.8"/><circle cx="528.14" cy="149.77" r="4.8"/><circle cx="526.77" cy="157.80" r="4.8"/><circle cx="524.22" cy="149.74" r="4.8"/><circle cx="559.59" cy="122.54" r="4.8"/><circle cx="557.94" cy="129.46" r="4.8"/><circle cx="559.34" cy="123.16" r="4.8"/><circle cx="558.49" cy="123.33" r="4.8"/><circle cx="558.86" cy="127.17" r="4.8"/><circle cx="559.66" cy="120.46" r="4.8"/><circle cx="558.44" cy="129.02" r="4.8"/><circle cx="556.03" cy="127.61" r="4.8"/><circle cx="555.91" cy="131.91" r="4.8"/><circle cx="556.73" cy="123.70" r="4.8"/><circle cx="554.76" cy="132.96" r="4.8"/><circle cx="555.81" cy="131.67" r="4.8"/><circle cx="559.11" cy="129.23" r="4.8"/><circle cx="559.29" cy="121.89" r="4.8"/><circle cx="556.31" cy="131.16" r="4.8"/><circle cx="558.53" cy="120.72" r="4.8"/><circle cx="558.55" cy="122.68" r="4.8"/><circle cx="559.13" cy="120.29" r="4.8"/><circle cx="558.65" cy="121.81" r="4.8"/><circle cx="557.33" cy="126.85" r="4.8"/><circle cx="555.18" cy="125.95" r="4.8"/><circle cx="558.81" cy="119.06" r="4.8"/><circle cx="556.23" cy="131.91" r="4.8"/><circle cx="557.81" cy="125.11" r="4.8"/><circle cx="556.50" cy="128.38" r="4.8"/><circle cx="557.36" cy="126.73" r="4.8"/><circle cx="559.51" cy="125.00" r="4.8"/><circle cx="555.46" cy="125.37" r="4.8"/><circle cx="557.32" cy="127.96" r="4.8"/><circle cx="557.92" cy="126.12" r="4.8"/><circle cx="557.36" cy="123.15" r="4.8"/><circle cx="559.37" cy="125.30" r="4.8"/><circle cx="556.70" cy="126.78" r="4.8"/><circle cx="559.25" cy="125.76" r="4.8"/><circle cx="558.12" cy="123.49" r="4.8"/><circle cx="559.52" cy="125.35" r="4.8"/><circle cx="555.10" cy="122.15" r="4.8"/><circle cx="555.72" cy="126.37" r="4.8"/><circle cx="556.10" cy="127.51" r="4.8"/><circle cx="559.21" cy="123.22" r="4.8"/><circle cx="554.72" cy="134.37" r="4.8"/><circle cx="555.96" cy="118.22" r="4.8"/></g>
<g fill="none" stroke="#0000ff" stroke-width="1.2"><circle cx="164.49" cy="429.83" r="4.8"/><circle cx="161.07" cy="431.31" r="4.8"/><circle cx="163.36" cy="430.09" r="4.8"/><circle cx="161.79" cy="430.90" r="4.8"/><circle cx="161.93" cy="431.02" r="4.8"/><circle cx="164.43" cy="429.67" r="4.8"/><circle cx="163.10" cy="430.40" r="4.8"/><circle cx="163.37" cy="430.11" r="4.8"/><circle cx="164.37" cy="429.51" r="4.8"/><circle cx="165.13" cy="429.45" r="4.8"/><circle cx="162.77" cy="430.83" r="4.8"/><circle cx="163.62" cy="429.85" r="4.8"/><circle cx="163.09" cy="430.14" r="4.8"/><circle cx="163.12" cy="430.22" r="4.8"/><circle cx="164.03" cy="429.99" r="4.8"/><circle cx="162.82" cy="430.28" r="4.8"/><circle cx="163.22" cy="430.23" r="4.8"/><circle cx="162.95" cy="430.51" r="4.8"/><circle cx="165.28" cy="429.14" r="4.8"/><circle cx="164.06" cy="430.16" r="4.8"/><circle cx="164.95" cy="429.16" r="4.8"/><circle cx="165.28" cy="429.41" r="4.8"/><circle cx="161.85" cy="430.95" r="4.8"/><circle cx="163.36" cy="430.23" r="4.8"/><circle cx="165.29" cy="428.90" r="4.8"/><circle cx="164.77" cy="429.57" r="4.8"/><circle cx="161.23" cy="431.29" r="4.8"/><circle cx="161.15" cy="431.31" r="4.8"/><circle cx="162.77" cy="430.46" r="4.8"/><circle cx="160.91" cy="431.85" r="4.8"/><circle cx="161.75" cy="431.06" r="4.8"/><circle cx="160.91" cy="431.41" r="4.8"/><circle cx="163.91" cy="429.84" r="4.8"/><circle cx="164.49" cy="429.55" r="4.8"/><circle cx="165.06" cy="429.42" r="4.8"/><circle cx="161.32" cy="431.43" r="4.8"/><circle cx="164.14" cy="429.50" r="4.8"/><circle cx="163.86" cy="429.96" r="4.8"/><circle cx="161.26" cy="431.35" r="4.8"/><circle cx="164.98" cy="429.25" r="4.8"/><circle cx="165.41" cy="428.75" r="4.8"/><circle cx="161.65" cy="431.19" r="4.8"/><circle cx="165.33" cy="428.81" r="4.8"/><circle cx="162.55" cy="430.67" r="4.8"/><circle cx="162.99" cy="430.70" r="4.8"/><circle cx="165.52" cy="428.84" r="4.8"/><circle cx="164.73" cy="429.61" r="4.8"/><circle cx="161.35" cy="431.43" r="4.8"/><circle cx="162.71" cy="430.77" r="4.8"/><circle cx="163.14" cy="430.42" r="4.8"/><circle cx="162.25" cy="431.07" r="4.8"/><circle cx="161.53" cy="431.13" r="4.8"/><circle cx="162.14" cy="431.04" r="4.8"/><circle cx="164.18" cy="430.14" r="4.8"/><circle cx="160.64" cy="431.44" r="4.8"/><circle cx="163.33" cy="430.06" r="4.8"/><circle cx="162.76" cy="430.32" r="4.8"/><circle cx="160.63" cy="432.06" r="4.8"/><circle cx="162.21" cy="430.71" r="4.8"/><circle cx="163.68" cy="430.09" r="4.8"/><circle cx="163.12" cy="429.89" r="4.8"/><circle cx="160.86" cy="432.10" r="4.8"/><circle cx="193.96" cy="409.05" r="4.8"/><circle cx="196.39" cy="407.72" r="4.8"/><circle cx="195.96" cy="407.82" r="4.8"/><circle cx="194.72" cy="408.59" r="4.8"/><circle cx="193.87" cy="409.02" r="4.8"/><circle cx="195.11" cy="408.72" r="4.8"/><circle cx="196.04" cy="407.70" r="4.8"/><circle cx="193.28" cy="410.01" r="4.8"/><circle cx="195.91" cy="408.07" r="4.8"/><circle cx="193.05" cy="409.86" r="4.8"/><circle cx="195.19" cy="409.07" r="4.8"/><circle cx="196.76" cy="407.05" r="4.8"/><circle cx="195.44" cy="408.27" r="4.8"/><circle cx="194.95" cy="408.65" r="4.8"/><circle cx="194.35" cy="409.20" r="4.8"/><circle cx="196.49" cy="408.04" r="4.8"/><circle cx="194.82" cy="408.02" r="4.8"/><circle cx="195.43" cy="407.57" r="4.8"/><circle cx="193.90" cy="409.06" r="4.8"/><circle cx="193.55" cy="409.70" r="4.8"/><circle cx="195.47" cy="408.22" r="4.8"/><circle cx="194.28" cy="409.34" r="4.8"/><circle cx="194.53" cy="408.87" r="4.8"/><circle cx="196.75" cy="407.48" r="4.8"/><circle cx="193.69" cy="409.22" r="4.8"/><circle cx="192.77" cy="409.73" r="4.8"/><circle cx="197.06" cy="407.12" r="4.8"/><circle cx="194.60" cy="408.94" r="4.8"/><circle cx="196.43" cy="407.55" r="4.8"/><circle cx="193.73" cy="409.54" r="4.8"/><circle cx="194.03" cy="409.28" r="4.8"/><circle cx="196.46" cy="407.45" r="4.8"/><circle cx="195.18" cy="408.92" r="4.8"/><circle cx="195.56" cy="407.88" r="4.8"/><circle cx="194.49" cy="408.63" r="4.8"/><circle cx="196.13" cy="407.51" r="4.8"/><circle cx="195.34" cy="408.09" r="4.8"/><circle cx="196.65" cy="407.39" r="4.8"/><circle cx="196.94" cy="407.06" r="4.8"/><circle cx="193.14" cy="409.85" r="4.8"/><circle cx="197.19" cy="407.34" r="4.8"/><circle cx="194.61" cy="408.97" r="4.8"/><circle cx="195.92" cy="407.90" r="4.8"/><circle cx="194.85" cy="408.56" r="4.8"/><circle cx="194.24" cy="408.70" r="4.8"/><circle cx="196.77" cy="407.60" r="4.8"/><circle cx="197.55" cy="406.51" r="4.8"/><circle cx="193.31" cy="409.52" r="4.8"/><circle cx="194.81" cy="408.55" r="4.8"/><circle cx="196.52" cy="407.35" r="4.8"/><circle cx="196.72" cy="407.59" r="4.8"/><circle cx="197.55" cy="406.63" r="4.8"/><circle cx="195.14" cy="408.19" r="4.8"/><circle cx="193.04" cy="409.57" r="4.8"/><circle cx="197.36" cy="407.09" r="4.8"/><circle cx="197.34" cy="407.83" r="4.8"/><circle cx="195.33" cy="408.14" r="4.8"/><circle cx="195.03" cy="408.12" r="4.8"/><circle cx="194.93" cy="408.16" r="4.8"/><circle cx="196.61" cy="407.81" r="4.8"/><circle cx="193.80" cy="408.46" r="4.8"/><circle cx="227.01" cy="387.46" r="4.8"/><circle cx="226.62" cy="387.61" r="4.8"/><circle cx="227.07" cy="387.37" r="4.8"/><circle cx="230.41" cy="385.36" r="4.8"/><circle cx="228.35" cy="386.57" r="4.8"/><circle cx="229.24" cy="386.01" r="4.8"/><circle cx="231.02" cy="385.02" r="4.8"/><circle cx="230.07" cy="385.45" r="4.8"/><circle cx="227.22" cy="387.43" r="4.8"/><circle cx="228.11" cy="386.87" r="4.8"/><circle cx="227.17" cy="387.42" r="4.8"/><circle cx="227.22" cy="387.32" r="4.8"/><circle cx="226.69" cy="387.74" r="4.8"/><circle cx="228.29" cy="386.94" r="4.8"/><circle cx="230.15" cy="385.51" r="4.8"/><circle cx="230.34" cy="385.41" r="4.8"/><circle cx="230.40" cy="385.34" r="4.8"/><circle cx="227.87" cy="386.74" r="4.8"/><circle cx="230.57" cy="385.22" r="4.8"/><circle cx="226.57" cy="387.66" r="4.8"/><circle cx="230.95" cy="384.87" r="4.8"/><circle cx="227.94" cy="386.80" r="4.8"/><circle cx="229.41" cy="386.12" r="4.8"/><circle cx="229.56" cy="385.57" r="4.8"/><circle cx="226.79" cy="387.58" r="4.8"/><circle cx="229.94" cy="385.64" r="4.8"/><circle cx="229.82" cy="385.75" r="4.8"/><circle cx="230.84" cy="385.00" r="4.8"/><circle cx="229.58" cy="385.80" r="4.8"/><circle cx="230.67" cy="385.22" r="4.8"/><circle cx="229.48" cy="385.79" r="4.8"/><circle cx="229.45" cy="385.92" r="4.8"/><circle cx="227.34" cy="387.16" r="4.8"/><circle cx="228.74" cy="386.48" r="4.8"/><circle cx="229.20" cy="386.01" r="4.8"/><circle cx="226.56" cy="387.83" r="4.8"/><circle cx="231.08" cy="384.74" r="4.8"/><circle cx="227.14" cy="387.23" r="4.8"/><circle cx="228.16" cy="386.71" r="4.8"/><circle cx="227.11" cy="387.32" r="4.8"/><circle cx="231.24" cy="384.83" r="4.8"/><circle cx="230.46" cy="385.54" r="4.8"/><circle cx="227.32" cy="387.13" r="4.8"/><circle cx="230.80" cy="385.15" r="4.8"/><circle cx="230.60" cy="385.32" r="4.8"/><circle cx="229.74" cy="385.80" r="4.8"/><circle cx="229.72" cy="385.93" r="4.8"/><circle cx="227.99" cy="386.80" r="4.8"/><circle cx="228.32" cy="386.63" r="4.8"/><circle cx="228.65" cy="386.28" r="4.8"/><circle cx="230.63" cy="384.92" r="4.8"/><circle cx="230.27" cy="385.34" r="4.8"/><circle cx="229.62" cy="385.85" r="4.8"/><circle cx="227.91" cy="387.25" r="4.8"/><circle cx="227.61" cy="387.32" r="4.8"/><circle cx="228.31" cy="386.92" r="4.8"/><circle cx="228.20" cy="386.67" r="4.8"/><circle cx="228.89" cy="386.40" r="4.8"/><circle cx="227.25" cy="387.40" r="4.8"/><circle cx="226.37" cy="387.84" r="4.8"/><circle cx="259.66" cy="366.07" r="4.8"/><circle cx="260.67" cy="365.39" r="4.8"/><circle cx="263.49" cy="363.86" r="4.8"/><circle cx="264.57" cy="362.64" r="4.8"/><circle cx="259.67" cy="366.38" r="4.8"/><circle cx="262.12" cy="364.83" r="4.8"/><circle cx="262.12" cy="364.16" r="4.8"/><circle cx="263.66" cy="362.93" r="4.8"/><circle cx="260.58" cy="365.30" r="4.8"/><circle cx="262.14" cy="364.20" r="4.8"/><circle cx="261.40" cy="364.84" r="4.8"/><circle cx="263.84" cy="363.46" r="4.8"/><circle cx="260.96" cy="365.15" r="4.8"/><circle cx="264.40" cy="363.17" r="4.8"/><circle cx="261.08" cy="365.15" r="4.8"/><circle cx="260.73" cy="365.30" r="4.8"/><circle cx="263.17" cy="363.37" r="4.8"/><circle cx="262.16" cy="364.74" r="4.8"/><circle cx="260.20" cy="366.28" r="4.8"/><circle cx="262.85" cy="364.35" r="4.8"/><circle cx="260.06" cy="365.64" r="4.8"/><circle cx="263.61" cy="363.41" r="4.8"/><circle cx="263.16" cy="364.08" r="4.8"/><circle cx="263.61" cy="363.88" r="4.8"/><circle cx="262.81" cy="364.37" r="4.8"/><circle cx="261.44" cy="365.27" r="4.8"/><circle cx="261.67" cy="365.05" r="4.8"/><circle cx="261.64" cy="364.66" r="4.8"/><circle cx="264.13" cy="363.34" r="4.8"/><circle cx="260.08" cy="365.51" r="4.8"/><circle cx="264.12" cy="363.13" r="4.8"/><circle cx="259.78" cy="365.74" r="4.8"/><circle cx="260.69" cy="364.67" r="4.8"/><circle cx="260.97" cy="365.32" r="4.8"/><circle cx="264.18" cy="362.72" r="4.8"/><circle cx="262.17" cy="364.22" r="4.8"/><circle cx="261.56" cy="364.72" r="4.8"/><circle cx="264.10" cy="363.03" r="4.8"/><circle cx="260.82" cy="365.29" r="4.8"/><circle cx="261.97" cy="364.68" r="4.8"/><circle cx="262.32" cy="364.16" r="4.8"/><circle cx="263.45" cy="363.54" r="4.8"/><circle cx="263.44" cy="363.89" r="4.8"/><circle cx="262.90" cy="363.46" r="4.8"/><circle cx="261.40" cy="364.96" r="4.8"/><circle cx="261.29" cy="364.49" r="4.8"/><circle cx="260.43" cy="365.27" r="4.8"/><circle cx="263.89" cy="363.05" r="4.8"/><circle cx="262.98" cy="363.72" r="4.8"/><circle cx="263.38" cy="363.12" r="4.8"/><circle cx="260.50" cy="365.05" r="4.8"/><circle cx="261.86" cy="364.65" r="4.8"/><circle cx="263.54" cy="362.88" r="4.8"/><circle cx="262.56" cy="364.21" r="4.8"/><circle cx="260.28" cy="365.66" r="4.8"/><circle cx="261.97" cy="364.81" r="4.8"/><circle cx="264.10" cy="363.29" r="4.8"/><circle cx="260.85" cy="365.29" r="4.8"/><circle cx="260.61" cy="365.07" r="4.8"/><circle cx="261.17" cy="365.40" r="4.8"/><circle cx="297.32" cy="344.49" r="4.8"/><circle cx="295.07" cy="346.55" r="4.8"/><circle cx="293.45" cy="346.64" r="4.8"/><circle cx="297.63" cy="343.67" r="4.8"/><circle cx="293.01" cy="347.78" r="4.8"/><circle cx="297.33" cy="344.45" r="4.8"/><circle cx="293.64" cy="346.97" r="4.8"/><circle cx="294.50" cy="346.33" r="4.8"/><circle cx="296.52" cy="345.29" r="4.8"/><circle cx="297.28" cy="343.92" r="4.8"/><circle cx="293.87" cy="347.22" r="4.8"/><circle cx="293.12" cy="347.33" r="4.8"/><circle cx="293.05" cy="347.53" r="4.8"/><circle cx="295.79" cy="345.44" r="4.8"/><circle cx="295.85" cy="345.84" r="4.8"/><circle cx="297.54" cy="345.29" r="4.8"/><circle cx="295.45" cy="346.53" r="4.8"/><circle cx="295.57" cy="346.10" r="4.8"/><circle cx="297.09" cy="344.72" r="4.8"/><circle cx="296.84" cy="346.16" r="4.8"/><circle cx="295.06" cy="345.98" r="4.8"/><circle cx="296.44" cy="344.82" r="4.8"/><circle cx="294.98" cy="346.71" r="4.8"/><circle cx="293.28" cy="346.59" r="4.8"/><circle cx="296.37" cy="346.50" r="4.8"/><circle cx="295.93" cy="345.83" r="4.8"/><circle cx="297.94" cy="345.05" r="4.8"/><circle cx="296.26" cy="345.36" r="4.8"/><circle cx="293.73" cy="345.74" r="4.8"/><circle cx="296.82" cy="344.84" r="4.8"/><circle cx="295.71" cy="345.71" r="4.8"/><circle cx="293.36" cy="346.19" r="4.8"/><circle cx="295.32" cy="345.93" r="4.8"/><circle cx="297.45" cy="344.48" r="4.8"/><circle cx="296.10" cy="345.62" r="4.8"/><circle cx="295.09" cy="345.46" r="4.8"/><circle cx="292.99" cy="348.25" r="4.8"/><circle cx="296.31" cy="344.84" r="4.8"/><circle cx="297.91" cy="343.73" r="4.8"/><circle cx="297.26" cy="344.39" r="4.8"/><circle cx="294.04" cy="345.77" r="4.8"/><circle cx="293.55" cy="347.33" r="4.8"/><circle cx="295.32" cy="346.01" r="4.8"/><circle cx="294.33" cy="346.50" r="4.8"/><circle cx="295.81" cy="345.51" r="4.8"/><circle cx="295.21" cy="345.50" r="4.8"/><circle cx="296.69" cy="344.89" r="4.8"/><circle cx="297.59" cy="343.79" r="4.8"/><circle cx="294.78" cy="345.90" r="4.8"/><circle cx="296.70" cy="345.21" r="4.8"/><circle cx="296.44" cy="345.60" r="4.8"/><circle cx="293.67" cy="346.85" r="4.8"/><circle cx="296.77" cy="344.88" r="4.8"/><circle cx="294.42" cy="346.32" r="4.8"/><circle cx="295.75" cy="345.14" r="4.8"/><circle cx="295.45" cy="345.34" r="4.8"/><circle cx="296.31" cy="345.88" r="4.8"/><circle cx="297.42" cy="345.32" r="4.8"/><circle cx="297.54" cy="344.19" r="4.8"/><circle cx="293.21" cy="347.91" r="4.8"/><circle cx="327.70" cy="324.03" r="4.8"/><circle cx="330.38" cy="322.51" r="4.8"/><circle cx="330.18" cy="322.71" r="4.8"/><circle cx="327.98" cy="323.79" r="4.8"/><circle cx="328.56" cy="324.11" r="4.8"/><circle cx="327.06" cy="324.88" r="4.8"/><circle cx="330.50" cy="321.54" r="4.8"/><circle cx="329.63" cy="322.85" r="4.8"/><circle cx="331.25" cy="321.70" r="4.8"/><circle cx="331.62" cy="322.28" r="4.8"/><circle cx="329.62" cy="322.52" r="4.8"/><circle cx="328.76" cy="323.30" r="4.8"/><circle cx="328.43" cy="323.04" r="4.8"/><circle cx="330.23" cy="322.39" r="4.8"/><circle cx="331.77" cy="321.62" r="4.8"/><circle cx="327.47" cy="323.80" r="4.8"/><circle cx="329.07" cy="322.68" r="4.8"/><circle cx="330.85" cy="322.19" r="4.8"/><circle cx="327.68" cy="323.97" r="4.8"/><circle cx="330.36" cy="322.97" r="4.8"/><circle cx="328.26" cy="324.17" r="4.8"/><circle cx="329.85" cy="323.05" r="4.8"/><circle cx="331.97" cy="321.46" r="4.8"/><circle cx="327.20" cy="325.00" r="4.8"/><circle cx="330.55" cy="322.11" r="4.8"/><circle cx="329.91" cy="323.13" r="4.8"/><circle cx="331.33" cy="321.74" r="4.8"/><circle cx="328.80" cy="323.98" r="4.8"/><circle cx="331.70" cy="322.00" r="4.8"/><circle cx="331.89" cy="322.02" r="4.8"/><circle cx="327.37" cy="325.55" r="4.8"/><circle cx="328.81" cy="324.23" r="4.8"/><circle cx="328.24" cy="323.88" r="4.8"/><circle cx="331.19" cy="321.46" r="4.8"/><circle cx="331.60" cy="321.66" r="4.8"/><circle cx="330.93" cy="322.59" r="4.8"/><circle cx="331.38" cy="322.15" r="4.8"/><circle cx="329.91" cy="321.73" r="4.8"/><circle cx="331.53" cy="322.07" r="4.8"/><circle cx="328.48" cy="323.84" r="4.8"/><circle cx="327.55" cy="323.67" r="4.8"/><circle cx="330.69" cy="322.54" r="4.8"/><circle cx="329.26" cy="323.05" r="4.8"/><circle cx="327.14" cy="324.72" r="4.8"/><circle cx="331.06" cy="321.21" r="4.8"/><circle cx="327.69" cy="324.44" r="4.8"/><circle cx="328.24" cy="323.75" r="4.8"/><circle cx="327.46" cy="324.07" r="4.8"/><circle cx="330.13" cy="322.55" r="4.8"/><circle cx="327.86" cy="324.31" r="4.8"/><circle cx="328.58" cy="323.84" r="4.8"/><circle cx="329.81" cy="322.51" r="4.8"/><circle cx="331.82" cy="321.78" r="4.8"/><circle cx="327.11" cy="324.14" r="4.8"/><circle cx="331.67" cy="321.11" r="4.8"/><circle cx="330.73" cy="321.55" r="4.8"/><circle cx="328.33" cy="323.82" r="4.8"/><circle cx="331.23" cy="321.16" r="4.8"/><circle cx="330.22" cy="321.87" r="4.8"/><circle cx="329.35" cy="322.80" r="4.8"/><circle cx="364.06" cy="299.76" r="4.8"/><circle cx="363.00" cy="302.14" r="4.8"/><circle cx="363.98" cy="299.81" r="4.8"/><circle cx="360.23" cy="302.33" r="4.8"/><circle cx="359.98" cy="303.32" r="4.8"/><circle cx="363.80" cy="301.52" r="4.8"/><circle cx="361.54" cy="301.58" r="4.8"/><circle cx="363.52" cy="301.72" r="4.8"/><circle cx="361.70" cy="301.85" r="4.8"/><circle cx="360.77" cy="303.05" r="4.8"/><circle cx="361.26" cy="301.94" r="4.8"/><circle cx="360.42" cy="302.37" r="4.8"/><circle cx="364.47" cy="298.34" r="4.8"/><circle cx="362.85" cy="301.45" r="4.8"/><circle cx="361.68" cy="302.55" r="4.8"/><circle cx="362.18" cy="302.20" r="4.8"/><circle cx="361.86" cy="301.82" r="4.8"/><circle cx="360.19" cy="303.16" r="4.8"/><circle cx="364.40" cy="300.94" r="4.8"/><circle cx="362.85" cy="302.49" r="4.8"/><circle cx="364.75" cy="299.35" r="4.8"/><circle cx="362.13" cy="302.53" r="4.8"/><circle cx="363.04" cy="301.45" r="4.8"/><circle cx="361.17" cy="302.24" r="4.8"/><circle cx="360.14" cy="304.25" r="4.8"/><circle cx="364.60" cy="300.59" r="4.8"/><circle cx="364.22" cy="300.16" r="4.8"/><circle cx="361.50" cy="301.41" r="4.8"/><circle cx="364.44" cy="300.61" r="4.8"/><circle cx="364.03" cy="300.00" r="4.8"/><circle cx="361.45" cy="301.77" r="4.8"/><circle cx="362.95" cy="301.21" r="4.8"/><circle cx="364.75" cy="300.03" r="4.8"/><circle cx="362.41" cy="301.36" r="4.8"/><circle cx="364.70" cy="301.20" r="4.8"/><circle cx="361.14" cy="301.71" r="4.8"/><circle cx="361.88" cy="303.48" r="4.8"/><circle cx="363.54" cy="302.36" r="4.8"/><circle cx="361.03" cy="302.80" r="4.8"/><circle cx="361.48" cy="301.57" r="4.8"/><circle cx="364.32" cy="299.67" r="4.8"/><circle cx="362.36" cy="301.91" r="4.8"/><circle cx="363.91" cy="301.23" r="4.8"/><circle cx="361.14" cy="301.69" r="4.8"/><circle cx="360.79" cy="302.11" r="4.8"/><circle cx="361.72" cy="301.89" r="4.8"/><circle cx="360.86" cy="302.08" r="4.8"/><circle cx="364.81" cy="298.86" r="4.8"/><circle cx="361.38" cy="301.88" r="4.8"/><circle cx="362.75" cy="301.53" r="4.8"/><circle cx="360.50" cy="301.18" r="4.8"/><circle cx="362.61" cy="301.48" r="4.8"/><circle cx="361.86" cy="300.24" r="4.8"/><circle cx="361.95" cy="301.39" r="4.8"/><circle cx="360.25" cy="303.45" r="4.8"/><circle cx="360.54" cy="303.63" r="4.8"/><circle cx="364.08" cy="300.96" r="4.8"/><circle cx="361.69" cy="301.34" r="4.8"/><circle cx="361.15" cy="301.07" r="4.8"/><circle cx="360.88" cy="301.68" r="4.8"/><circle cx="392.85" cy="281.86" r="4.8"/><circle cx="396.87" cy="279.47" r="4.8"/><circle cx="396.22" cy="279.80" r="4.8"/><circle cx="395.68" cy="279.43" r="4.8"/><circle cx="395.19" cy="280.99" r="4.8"/><circle cx="395.56" cy="280.33" r="4.8"/><circle cx="395.43" cy="280.90" r="4.8"/><circle cx="394.98" cy="280.91" r="4.8"/><circle cx="395.52" cy="279.44" r="4.8"/><circle cx="395.98" cy="280.18" r="4.8"/><circle cx="393.60" cy="281.39" r="4.8"/><circle cx="394.85" cy="278.96" r="4.8"/><circle cx="395.89" cy="278.82" r="4.8"/><circle cx="393.24" cy="280.31" r="4.8"/><circle cx="396.90" cy="277.65" r="4.8"/><circle cx="396.46" cy="280.29" r="4.8"/><circle cx="394.50" cy="279.86" r="4.8"/><circle cx="396.14" cy="281.21" r="4.8"/><circle cx="395.67" cy="280.26" r="4.8"/><circle cx="394.95" cy="280.66" r="4.8"/><circle cx="394.68" cy="280.77" r="4.8"/><circle cx="396.13" cy="281.95" r="4.8"/><circle cx="393.52" cy="280.85" r="4.8"/><circle cx="397.18" cy="279.26" r="4.8"/><circle cx="395.50" cy="279.67" r="4.8"/><circle cx="396.02" cy="281.86" r="4.8"/><circle cx="397.09" cy="279.34" r="4.8"/><circle cx="393.95" cy="278.69" r="4.8"/><circle cx="396.55" cy="281.15" r="4.8"/><circle cx="396.31" cy="277.99" r="4.8"/><circle cx="393.57" cy="280.65" r="4.8"/><circle cx="395.74" cy="279.71" r="4.8"/><circle cx="395.62" cy="280.69" r="4.8"/><circle cx="397.57" cy="278.36" r="4.8"/><circle cx="394.64" cy="281.15" r="4.8"/><circle cx="394.04" cy="280.39" r="4.8"/><circle cx="395.05" cy="279.57" r="4.8"/><circle cx="394.14" cy="281.83" r="4.8"/><circle cx="393.97" cy="281.87" r="4.8"/><circle cx="397.70" cy="278.83" r="4.8"/><circle cx="393.85" cy="282.76" r="4.8"/><circle cx="396.60" cy="279.46" r="4.8"/><circle cx="393.94" cy="279.82" r="4.8"/><circle cx="397.04" cy="277.09" r="4.8"/><circle cx="396.10" cy="279.76" r="4.8"/><circle cx="393.77" cy="281.12" r="4.8"/><circle cx="396.20" cy="278.19" r="4.8"/><circle cx="396.40" cy="280.35" r="4.8"/><circle cx="393.97" cy="279.55" r="4.8"/><circle cx="395.13" cy="280.17" r="4.8"/><circle cx="395.55" cy="278.54" r="4.8"/><circle cx="396.33" cy="277.37" r="4.8"/><circle cx="396.53" cy="278.78" r="4.8"/><circle cx="397.40" cy="279.26" r="4.8"/><circle cx="395.68" cy="280.11" r="4.8"/><circle cx="397.11" cy="279.68" r="4.8"/><circle cx="396.25" cy="279.36" r="4.8"/><circle cx="396.85" cy="277.54" r="4.8"/><circle cx="393.50" cy="281.64" r="4.8"/><circle cx="395.36" cy="280.02" r="4.8"/><circle cx="430.28" cy="259.23" r="4.8"/><circle cx="430.12" cy="258.81" r="4.8"/><circle cx="430.04" cy="258.82" r="4.8"/><circle cx="429.65" cy="258.78" r="4.8"/><circle cx="428.39" cy="260.10" r="4.8"/><circle cx="427.50" cy="260.92" r="4.8"/><circle cx="429.31" cy="259.66" r="4.8"/><circle cx="427.96" cy="260.05" r="4.8"/><circle cx="430.06" cy="260.42" r="4.8"/><circle cx="426.81" cy="262.18" r="4.8"/><circle cx="430.33" cy="259.47" r="4.8"/><circle cx="430.27" cy="258.91" r="4.8"/><circle cx="427.69" cy="261.55" r="4.8"/><circle cx="426.80" cy="261.27" r="4.8"/><circle cx="429.71" cy="259.27" r="4.8"/><circle cx="425.87" cy="263.31" r="4.8"/><circle cx="429.06" cy="259.87" r="4.8"/><circle cx="425.81" cy="261.19" r="4.8"/><circle cx="429.79" cy="258.42" r="4.8"/><circle cx="430.33" cy="259.16" r="4.8"/><circle cx="429.13" cy="259.24" r="4.8"/><circle cx="427.50" cy="261.81" r="4.8"/><circle cx="426.88" cy="262.76" r="4.8"/><circle cx="427.63" cy="261.48" r="4.8"/><circle cx="430.30" cy="258.63" r="4.8"/><circle cx="427.62" cy="260.11" r="4.8"/><circle cx="429.04" cy="259.23" r="4.8"/><circle cx="430.06" cy="258.57" r="4.8"/><circle cx="425.89" cy="262.00" r="4.8"/><circle cx="425.84" cy="261.73" r="4.8"/><circle cx="429.30" cy="259.60" r="4.8"/><circle cx="426.95" cy="261.36" r="4.8"/><circle cx="427.52" cy="259.70" r="4.8"/><circle cx="427.37" cy="261.12" r="4.8"/><circle cx="427.88" cy="259.44" r="4.8"/><circle cx="427.14" cy="260.61" r="4.8"/><circle cx="430.16" cy="259.21" r="4.8"/><circle cx="428.24" cy="261.14" r="4.8"/><circle cx="430.67" cy="260.21" r="4.8"/><circle cx="429.71" cy="260.42" r="4.8"/><circle cx="428.14" cy="260.85" r="4.8"/><circle cx="430.43" cy="258.60" r="4.8"/><circle cx="429.60" cy="259.80" r="4.8"/><circle cx="430.54" cy="258.59" r="4.8"/><circle cx="426.42" cy="261.27" r="4.8"/><circle cx="427.24" cy="259.88" r="4.8"/><circle cx="426.18" cy="260.72" r="4.8"/><circle cx="425.75" cy="261.60" r="4.8"/><circle cx="430.12" cy="258.36" r="4.8"/><circle cx="426.99" cy="261.01" r="4.8"/><circle cx="427.34" cy="261.35" r="4.8"/><circle cx="428.80" cy="259.06" r="4.8"/><circle cx="430.55" cy="258.73" r="4.8"/><circle cx="426.80" cy="261.97" r="4.8"/><circle cx="426.00" cy="260.17" r="4.8"/><circle cx="429.67" cy="258.59" r="4.8"/><circle cx="430.02" cy="259.03" r="4.8"/><circle cx="429.44" cy="258.88" r="4.8"/><circle cx="425.97" cy="261.73" r="4.8"/><circle cx="429.63" cy="259.58" r="4.8"/><circle cx="461.90" cy="239.91" r="4.8"/><circle cx="462.18" cy="238.92" r="4.8"/><circle cx="459.16" cy="240.72" r="4.8"/><circle cx="458.88" cy="240.47" r="4.8"/><circle cx="458.13" cy="241.70" r="4.8"/><circle cx="460.57" cy="241.22" r="4.8"/><circle cx="459.75" cy="241.26" r="4.8"/><circle cx="460.20" cy="241.04" r="4.8"/><circle cx="460.33" cy="239.97" r="4.8"/><circle cx="460.80" cy="242.42" r="4.8"/><circle cx="459.71" cy="239.15" r="4.8"/><circle cx="461.90" cy="239.21" r="4.8"/><circle cx="458.87" cy="240.80" r="4.8"/><circle cx="462.49" cy="238.81" r="4.8"/><circle cx="460.67" cy="240.24" r="4.8"/><circle cx="458.12" cy="242.01" r="4.8"/><circle cx="459.45" cy="241.10" r="4.8"/><circle cx="460.55" cy="238.89" r="4.8"/><circle cx="459.92" cy="238.98" r="4.8"/><circle cx="460.71" cy="240.56" r="4.8"/><circle cx="459.49" cy="239.84" r="4.8"/><circle cx="459.24" cy="241.71" r="4.8"/><circle cx="461.87" cy="238.85" r="4.8"/><circle cx="459.33" cy="241.09" r="4.8"/><circle cx="461.44" cy="240.08" r="4.8"/><circle cx="461.91" cy="239.70" r="4.8"/><circle cx="460.85" cy="241.14" r="4.8"/><circle cx="460.15" cy="240.89" r="4.8"/><circle cx="462.57" cy="239.65" r="4.8"/><circle cx="460.11" cy="238.56" r="4.8"/><circle cx="462.29" cy="238.99" r="4.8"/><circle cx="458.16" cy="242.21" r="4.8"/><circle cx="460.05" cy="240.12" r="4.8"/><circle cx="461.08" cy="240.69" r="4.8"/><circle cx="458.11" cy="241.07" r="4.8"/><circle cx="462.21" cy="238.49" r="4.8"/><circle cx="458.23" cy="240.70" r="4.8"/><circle cx="460.87" cy="241.36" r="4.8"/><circle cx="458.77" cy="241.58" r="4.8"/><circle cx="462.51" cy="239.24" r="4.8"/><circle cx="460.69" cy="242.44" r="4.8"/><circle cx="461.90" cy="239.78" r="4.8"/><circle cx="460.37" cy="239.67" r="4.8"/><circle cx="461.26" cy="239.03" r="4.8"/><circle cx="461.26" cy="240.42" r="4.8"/><circle cx="459.35" cy="243.36" r="4.8"/><circle cx="458.93" cy="240.91" r="4.8"/><circle cx="462.09" cy="239.56" r="4.8"/><circle cx="458.60" cy="241.25" r="4.8"/><circle cx="462.49" cy="237.94" r="4.8"/><circle cx="458.91" cy="240.35" r="4.8"/><circle cx="458.37" cy="239.96" r="4.8"/><circle cx="458.35" cy="240.78" r="4.8"/><circle cx="461.81" cy="238.65" r="4.8"/><circle cx="462.65" cy="240.12" r="4.8"/><circle cx="459.95" cy="241.74" r="4.8"/><circle cx="461.18" cy="240.22" r="4.8"/><circle cx="459.16" cy="240.90" r="4.8"/><circle cx="462.43" cy="239.82" r="4.8"/><circle cx="461.32" cy="238.82" r="4.8"/><circle cx="495.25" cy="217.38" r="4.8"/><circle cx="494.95" cy="215.67" r="4.8"/><circle cx="496.50" cy="218.23" r="4.8"/><circle cx="495.24" cy="216.34" r="4.8"/><circle cx="495.34" cy="218.00" r="4.8"/><circle cx="494.90" cy="217.10" r="4.8"/><circle cx="492.23" cy="219.73" r="4.8"/><circle cx="495.34" cy="219.80" r="4.8"/><circle cx="492.82" cy="219.77" r="4.8"/><circle cx="493.64" cy="218.30" r="4.8"/><circle cx="494.14" cy="218.18" r="4.8"/><circle cx="493.21" cy="218.95" r="4.8"/><circle cx="492.89" cy="219.92" r="4.8"/><circle cx="493.04" cy="217.93" r="4.8"/><circle cx="493.08" cy="221.14" r="4.8"/><circle cx="495.12" cy="215.74" r="4.8"/><circle cx="495.00" cy="218.25" r="4.8"/><circle cx="496.27" cy="216.41" r="4.8"/><circle cx="495.62" cy="216.76" r="4.8"/><circle cx="491.85" cy="220.28" r="4.8"/><circle cx="494.84" cy="217.77" r="4.8"/><circle cx="494.03" cy="219.75" r="4.8"/><circle cx="495.03" cy="216.71" r="4.8"/><circle cx="491.64" cy="221.28" r="4.8"/><circle cx="495.95" cy="215.23" r="4.8"/><circle cx="496.02" cy="216.93" r="4.8"/><circle cx="492.15" cy="218.94" r="4.8"/><circle cx="493.45" cy="217.41" r="4.8"/><circle cx="493.11" cy="219.81" r="4.8"/><circle cx="494.13" cy="217.95" r="4.8"/><circle cx="492.31" cy="217.95" r="4.8"/><circle cx="494.60" cy="219.49" r="4.8"/><circle cx="493.86" cy="218.38" r="4.8"/><circle cx="496.32" cy="217.97" r="4.8"/><circle cx="493.98" cy="218.93" r="4.8"/><circle cx="491.58" cy="220.16" r="4.8"/><circle cx="496.26" cy="215.68" r="4.8"/><circle cx="492.91" cy="220.39" r="4.8"/><circle cx="492.49" cy="220.75" r="4.8"/><circle cx="496.17" cy="219.10" r="4.8"/><circle cx="494.10" cy="217.96" r="4.8"/><circle cx="496.57" cy="217.41" r="4.8"/><circle cx="492.42" cy="219.97" r="4.8"/><circle cx="494.52" cy="217.11" r="4.8"/><circle cx="496.49" cy="218.36" r="4.8"/><circle cx="494.70" cy="217.37" r="4.8"/><circle cx="492.76" cy="217.53" r="4.8"/><circle cx="495.44" cy="217.74" r="4.8"/><circle cx="491.68" cy="218.81" r="4.8"/><circle cx="494.31" cy="216.69" r="4.8"/><circle cx="493.60" cy="217.28" r="4.8"/><circle cx="491.97" cy="218.13" r="4.8"/><circle cx="496.33" cy="216.11" r="4.8"/><circle cx="494.77" cy="219.43" r="4.8"/><circle cx="494.03" cy="219.90" r="4.8"/><circle cx="496.45" cy="217.05" r="4.8"/><circle cx="493.36" cy="219.05" r="4.8"/><circle cx="496.09" cy="215.76" r="4.8"/><circle cx="493.18" cy="217.75" r="4.8"/><circle cx="495.74" cy="214.81" r="4.8"/><circle cx="494.04" cy="214.94" r="4.8"/><circle cx="491.79" cy="222.49" r="4.8"/><circle cx="524.10" cy="201.30" r="4.8"/><circle cx="525.10" cy="199.58" r="4.8"/><circle cx="525.85" cy="199.98" r="4.8"/><circle cx="528.50" cy="195.31" r="4.8"/><circle cx="524.56" cy="196.51" r="4.8"/><circle cx="528.48" cy="197.23" r="4.8"/><circle cx="528.82" cy="197.73" r="4.8"/><circle cx="526.28" cy="198.71" r="4.8"/><circle cx="526.95" cy="201.10" r="4.8"/><circle cx="528.70" cy="195.22" r="4.8"/><circle cx="527.52" cy="199.50" r="4.8"/><circle cx="528.67" cy="194.99" r="4.8"/><circle cx="527.90" cy="196.36" r="4.8"/><circle cx="526.94" cy="197.55" r="4.8"/><circle cx="527.69" cy="196.98" r="4.8"/><circle cx="528.40" cy="197.77" r="4.8"/><circle cx="524.92" cy="200.22" r="4.8"/><circle cx="527.35" cy="197.22" r="4.8"/><circle cx="528.41" cy="197.32" r="4.8"/><circle cx="529.05" cy="196.76" r="4.8"/><circle cx="527.68" cy="198.59" r="4.8"/><circle cx="526.43" cy="197.01" r="4.8"/><circle cx="528.50" cy="195.68" r="4.8"/><circle cx="527.12" cy="197.98" r="4.8"/><circle cx="524.66" cy="202.76" r="4.8"/><circle cx="526.57" cy="197.47" r="4.8"/><circle cx="525.99" cy="199.08" r="4.8"/><circle cx="527.59" cy="195.75" r="4.8"/><circle cx="528.09" cy="196.89" r="4.8"/><circle cx="528.54" cy="197.33" r="4.8"/><circle cx="524.09" cy="199.58" r="4.8"/><circle cx="526.92" cy="200.02" r="4.8"/><circle cx="527.82" cy="198.69" r="4.8"/><circle cx="525.20" cy="197.91" r="4.8"/><circle cx="527.78" cy="197.40" r="4.8"/><circle cx="527.33" cy="199.89" r="4.8"/><circle cx="525.29" cy="198.19" r="4.8"/><circle cx="528.64" cy="193.88" r="4.8"/><circle cx="525.08" cy="199.82" r="4.8"/><circle cx="524.07" cy="200.86" r="4.8"/><circle cx="526.42" cy="199.34" r="4.8"/><circle cx="526.09" cy="199.92" r="4.8"/><circle cx="528.80" cy="197.85" r="4.8"/><circle cx="528.90" cy="195.70" r="4.8"/><circle cx="527.97" cy="197.68" r="4.8"/><circle cx="524.29" cy="199.46" r="4.8"/><circle cx="526.87" cy="198.83" r="4.8"/><circle cx="526.98" cy="197.35" r="4.8"/><circle cx="526.15" cy="200.16" r="4.8"/><circle cx="524.28" cy="198.79" r="4.8"/><circle cx="526.42" cy="198.99" r="4.8"/><circle cx="526.48" cy="197.28" r="4.8"/><circle cx="528.88" cy="198.42" r="4.8"/><circle cx="527.89" cy="199.26" r="4.8"/><circle cx="528.51" cy="197.31" r="4.8"/><circle cx="524.55" cy="200.45" r="4.8"/><circle cx="524.79" cy="201.52" r="4.8"/><circle cx="526.73" cy="198.58" r="4.8"/><circle cx="527.17" cy="197.60" r="4.8"/><circle cx="525.69" cy="198.97" r="4.8"/><circle cx="526.63" cy="202.04" r="4.8"/><circle cx="555.12" cy="180.36" r="4.8"/><circle cx="555.24" cy="180.44" r="4.8"/><circle cx="557.07" cy="180.18" r="4.8"/><circle cx="555.53" cy="179.87" r="4.8"/><circle cx="555.81" cy="179.47" r="4.8"/><circle cx="556.87" cy="179.31" r="4.8"/><circle cx="555.25" cy="180.52" r="4.8"/><circle cx="554.99" cy="180.88" r="4.8"/><circle cx="556.47" cy="180.11" r="4.8"/><circle cx="557.01" cy="177.56" r="4.8"/><circle cx="559.37" cy="178.83" r="4.8"/><circle cx="557.44" cy="180.87" r="4.8"/><circle cx="555.01" cy="181.57" r="4.8"/><circle cx="555.77" cy="178.86" r="4.8"/><circle cx="558.40" cy="175.78" r="4.8"/><circle cx="557.48" cy="177.95" r="4.8"/><circle cx="559.03" cy="174.54" r="4.8"/><circle cx="559.50" cy="176.32" r="4.8"/><circle cx="558.97" cy="179.71" r="4.8"/><circle cx="555.21" cy="180.88" r="4.8"/><circle cx="559.40" cy="176.99" r="4.8"/><circle cx="557.29" cy="179.63" r="4.8"/><circle cx="555.86" cy="177.69" r="4.8"/><circle cx="555.51" cy="179.54" r="4.8"/><circle cx="559.00" cy="180.13" r="4.8"/><circle cx="555.72" cy="181.39" r="4.8"/><circle cx="555.07" cy="180.27" r="4.8"/><circle cx="555.99" cy="182.03" r="4.8"/><circle cx="559.30" cy="178.23" r="4.8"/><circle cx="556.97" cy="178.86" r="4.8"/><circle cx="558.33" cy="179.22" r="4.8"/><circle cx="555.03" cy="181.06" r="4.8"/><circle cx="556.93" cy="179.78" r="4.8"/><circle cx="556.25" cy="177.59" r="4.8"/><circle cx="555.69" cy="180.13" r="4.8"/><circle cx="557.99" cy="178.31" r="4.8"/><circle cx="556.47" cy="178.41" r="4.8"/><circle cx="555.25" cy="181.86" r="4.8"/><circle cx="559.61" cy="178.28" r="4.8"/><circle cx="557.08" cy="179.70" r="4.8"/><circle cx="555.56" cy="180.48" r="4.8"/><circle cx="554.71" cy="181.63" r="4.8"/><circle cx="557.94" cy="176.36" r="4.8"/><circle cx="557.24" cy="178.46" r="4.8"/><circle cx="554.78" cy="180.40" r="4.8"/><circle cx="557.02" cy="178.71" r="4.8"/><circle cx="558.38" cy="180.92" r="4.8"/><circle cx="557.36" cy="180.88" r="4.8"/><circle cx="555.83" cy="183.38" r="4.8"/><circle cx="557.16" cy="180.34" r="4.8"/><circle cx="557.70" cy="177.34" r="4.8"/><circle cx="557.93" cy="178.23" r="4.8"/><circle cx="555.38" cy="179.12" r="4.8"/><circle cx="558.70" cy="178.79" r="4.8"/><circle cx="559.41" cy="176.25" r="4.8"/><circle cx="558.38" cy="179.27" r="4.8"/><circle cx="558.97" cy="176.73" r="4.8"/><circle cx="556.50" cy="180.04" r="4.8"/><circle cx="559.20" cy="177.75" r="4.8"/><circle cx="555.57" cy="179.42" r="4.8"/><circle cx="555.79" cy="174.42" r="4.8"/><circle cx="557.66" cy="174.31" r="4.8"/><circle cx="559.19" cy="182.39" r="4.8"/></g>
<line x1="89.50" y1="473.3" x2="89.50" y2="467.8" stroke="#6e6e6e" stroke-width="1.2"/>
<line x1="89.50" y1="66.5" x2="89.50" y2="72.0" stroke="#6e6e6e" stroke-width="1.2"/>
<line x1="166.93" y1="473.3" x2="166.93" y2="467.8" stroke="#6e6e6e" stroke-width="1.2"/>
<line x1="166.93" y1="66.5" x2="166.93" y2="72.0" stroke="#6e6e6e" stroke-width="1.2"/>
<line x1="244.36" y1="473.3" x2="244.36" y2="467.8" stroke="#6e6e6e" stroke-width="1.2"/>
<line x1="244.36" y1="66.5" x2="244.36" y2="72.0" stroke="#6e6e6e" stroke-width="1.2"/>
<line x1="321.79" y1="473.3" x2="321.79" y2="467.8" stroke="#6e6e6e" stroke-width="1.2"/>
<line x1="321.79" y1="66.5" x2="321.79" y2="72.0" stroke="#6e6e6e" stroke-width="1.2"/>
<line x1="399.21" y1="473.3" x2="399.21" y2="467.8" stroke="#6e6e6e" stroke-width="1.2"/>
<line x1="399.21" y1="66.5" x2="399.21" y2="72.0" stroke="#6e6e6e" stroke-width="1.2"/>
<line x1="476.64" y1="473.3" x2="476.64" y2="467.8" stroke="#6e6e6e" stroke-width="1.2"/>
<line x1="476.64" y1="66.5" x2="476.64" y2="72.0" stroke="#6e6e6e" stroke-width="1.2"/>
<line x1="554.07" y1="473.3" x2="554.07" y2="467.8" stroke="#6e6e6e" stroke-width="1.2"/>
<line x1="554.07" y1="66.5" x2="554.07" y2="72.0" stroke="#6e6e6e" stroke-width="1.2"/>
<line x1="631.50" y1="473.3" x2="631.50" y2="467.8" stroke="#6e6e6e" stroke-width="1.2"/>
<line x1="631.50" y1="66.5" x2="631.50" y2="72.0" stroke="#6e6e6e" stroke-width="1.2"/>
<line x1="89.5" y1="473.30" x2="95.0" y2="473.30" stroke="#6e6e6e" stroke-width="1.2"/>
<line x1="631.5" y1="473.30" x2="626.0" y2="473.30" stroke="#6e6e6e" stroke-width="1.2"/>
<line x1="89.5" y1="382.90" x2="95.0" y2="382.90" stroke="#6e6e6e" stroke-width="1.2"/>
<line x1="631.5" y1="382.90" x2="626.0" y2="382.90" stroke="#6e6e6e" stroke-width="1.2"/>
<line x1="89.5" y1="292.50" x2="95.0" y2="292.50" stroke="#6e6e6e" stroke-width="1.2"/>
<line x1="631.5" y1="292.50" x2="626.0" y2="292.50" stroke="#6e6e6e" stroke-width="1.2"/>
<line x1="89.5" y1="202.10" x2="95.0" y2="202.10" stroke="#6e6e6e" stroke-width="1.2"/>
<line x1="631.5" y1="202.10" x2="626.0" y2="202.10" stroke="#6e6e6e" stroke-width="1.2"/>
<line x1="89.5" y1="111.70" x2="95.0" y2="111.70" stroke="#6e6e6e" stroke-width="1.2"/>
<line x1="631.5" y1="111.70" x2="626.0" y2="111.70" stroke="#6e6e6e" stroke-width="1.2"/>
<rect x="89.5" y="66.5" width="542.00" height="406.80" fill="none" stroke="#6e6e6e" stroke-width="1.3"/>
<text transform="translate(89.50 508) scale(1 1.04)" font-size="27.6" text-anchor="middle">0</text>
<text transform="translate(166.93 508) scale(1 1.04)" font-size="27.6" text-anchor="middle">20</text>
<text transform="translate(244.36 508) scale(1 1.04)" font-size="27.6" text-anchor="middle">40</text>
<text transform="translate(321.79 508) scale(1 1.04)" font-size="27.6" text-anchor="middle">60</text>
<text transform="translate(399.21 508) scale(1 1.04)" font-size="27.6" text-anchor="middle">80</text>
<text transform="translate(476.64 508) scale(1 1.04)" font-size="27.6" text-anchor="middle">100</text>
<text transform="translate(554.07 508) scale(1 1.04)" font-size="27.6" text-anchor="middle">120</text>
<text transform="translate(631.50 508) scale(1 1.04)" font-size="27.6" text-anchor="middle">140</text>
<text transform="translate(80.8 482.80) scale(1 1.04)" font-size="27.6" text-anchor="end">0</text>
<text transform="translate(80.8 392.40) scale(1 1.04)" font-size="27.6" text-anchor="end">40</text>
<text transform="translate(80.8 302.00) scale(1 1.04)" font-size="27.6" text-anchor="end">80</text>
<text transform="translate(80.8 211.60) scale(1 1.04)" font-size="27.6" text-anchor="end">120</text>
<text transform="translate(80.8 121.20) scale(1 1.04)" font-size="27.6" text-anchor="end">160</text>
<rect x="99.5" y="76.8" width="179.4" height="61.3" fill="#fff" stroke="#444" stroke-width="1.2"/>
<circle cx="115.1" cy="92.0" r="6.5" fill="none" stroke="#000" stroke-width="1.5"/>
<circle cx="115.1" cy="122.3" r="6.5" fill="none" stroke="#0000ff" stroke-width="1.5"/>
<text transform="translate(129.5 98.6) scale(1 1.06)" font-size="21.7">Estimated (RI)</text>
<text transform="translate(129.5 128.8) scale(1 1.06)" font-size="21.7">Estimated (RD)</text>
<text transform="translate(360.5 544.2) scale(1 1.05)" font-size="31" text-anchor="middle">True range (km)</text>
<text transform="translate(27.2 271) rotate(-90) scale(1 1.05)" font-size="31" text-anchor="middle">Estimated range (km)</text>
<line x1="813.47" y1="66.5" x2="813.47" y2="478.3" stroke="#f2f2f2" stroke-width="1"/>
<line x1="890.94" y1="66.5" x2="890.94" y2="478.3" stroke="#f2f2f2" stroke-width="1"/>
<line x1="968.41" y1="66.5" x2="968.41" y2="478.3" stroke="#f2f2f2" stroke-width="1"/>
<line x1="1045.89" y1="66.5" x2="1045.89" y2="478.3" stroke="#f2f2f2" stroke-width="1"/>
<line x1="1123.36" y1="66.5" x2="1123.36" y2="478.3" stroke="#f2f2f2" stroke-width="1"/>
<line x1="1200.83" y1="66.5" x2="1200.83" y2="478.3" stroke="#f2f2f2" stroke-width="1"/>
<line x1="736.0" y1="432.54" x2="1278.3" y2="432.54" stroke="#f2f2f2" stroke-width="1"/>
<line x1="736.0" y1="341.03" x2="1278.3" y2="341.03" stroke="#f2f2f2" stroke-width="1"/>
<line x1="736.0" y1="249.52" x2="1278.3" y2="249.52" stroke="#f2f2f2" stroke-width="1"/>
<line x1="736.0" y1="158.01" x2="1278.3" y2="158.01" stroke="#f2f2f2" stroke-width="1"/>
<line x1="736.0" y1="432.54" x2="1278.3" y2="432.54" stroke="#555" stroke-width="1.5" stroke-dasharray="6 4"/>
<g fill="none" stroke="#000000" stroke-width="1.2"><circle cx="807.97" cy="444.14" r="4.8"/><circle cx="808.25" cy="444.20" r="4.8"/><circle cx="808.26" cy="451.76" r="4.8"/><circle cx="809.52" cy="442.92" r="4.8"/><circle cx="810.05" cy="442.73" r="4.8"/><circle cx="808.40" cy="442.23" r="4.8"/><circle cx="807.10" cy="443.12" r="4.8"/><circle cx="809.19" cy="440.40" r="4.8"/><circle cx="808.94" cy="446.13" r="4.8"/><circle cx="809.93" cy="443.34" r="4.8"/><circle cx="811.88" cy="441.67" r="4.8"/><circle cx="810.56" cy="441.12" r="4.8"/><circle cx="809.68" cy="445.10" r="4.8"/><circle cx="810.19" cy="440.14" r="4.8"/><circle cx="810.49" cy="446.20" r="4.8"/><circle cx="807.35" cy="449.74" r="4.8"/><circle cx="811.61" cy="443.14" r="4.8"/><circle cx="811.01" cy="444.87" r="4.8"/><circle cx="811.48" cy="442.62" r="4.8"/><circle cx="811.10" cy="449.05" r="4.8"/><circle cx="809.06" cy="442.62" r="4.8"/><circle cx="809.09" cy="444.72" r="4.8"/><circle cx="807.60" cy="439.76" r="4.8"/><circle cx="810.27" cy="442.52" r="4.8"/><circle cx="807.39" cy="439.00" r="4.8"/><circle cx="807.42" cy="447.20" r="4.8"/><circle cx="808.13" cy="446.54" r="4.8"/><circle cx="807.90" cy="441.03" r="4.8"/><circle cx="808.79" cy="445.78" r="4.8"/><circle cx="807.34" cy="447.29" r="4.8"/><circle cx="807.08" cy="449.13" r="4.8"/><circle cx="807.84" cy="445.17" r="4.8"/><circle cx="807.59" cy="439.47" r="4.8"/><circle cx="808.91" cy="436.20" r="4.8"/><circle cx="807.21" cy="446.81" r="4.8"/><circle cx="811.48" cy="442.18" r="4.8"/><circle cx="810.17" cy="449.83" r="4.8"/><circle cx="807.83" cy="446.27" r="4.8"/><circle cx="808.35" cy="440.71" r="4.8"/><circle cx="808.83" cy="450.01" r="4.8"/><circle cx="808.91" cy="442.22" r="4.8"/><circle cx="807.70" cy="443.82" r="4.8"/><circle cx="811.35" cy="446.78" r="4.8"/><circle cx="812.08" cy="442.06" r="4.8"/><circle cx="809.43" cy="442.26" r="4.8"/><circle cx="809.52" cy="445.07" r="4.8"/><circle cx="807.51" cy="444.76" r="4.8"/><circle cx="807.59" cy="438.05" r="4.8"/><circle cx="808.81" cy="443.12" r="4.8"/><circle cx="808.41" cy="439.85" r="4.8"/><circle cx="811.25" cy="445.53" r="4.8"/><circle cx="807.89" cy="442.93" r="4.8"/><circle cx="807.20" cy="442.51" r="4.8"/><circle cx="811.87" cy="445.60" r="4.8"/><circle cx="809.74" cy="447.06" r="4.8"/><circle cx="807.82" cy="442.26" r="4.8"/><circle cx="809.82" cy="444.35" r="4.8"/><circle cx="807.22" cy="441.80" r="4.8"/><circle cx="809.74" cy="444.35" r="4.8"/><circle cx="812.01" cy="450.95" r="4.8"/><circle cx="811.43" cy="415.16" r="4.8"/><circle cx="810.59" cy="420.65" r="4.8"/><circle cx="808.39" cy="427.05" r="4.8"/><circle cx="808.93" cy="430.71" r="4.8"/><circle cx="839.69" cy="386.00" r="4.8"/><circle cx="843.35" cy="390.44" r="4.8"/><circle cx="839.96" cy="384.48" r="4.8"/><circle cx="842.19" cy="389.56" r="4.8"/><circle cx="841.21" cy="382.18" r="4.8"/><circle cx="840.74" cy="383.42" r="4.8"/><circle cx="842.40" cy="387.46" r="4.8"/><circle cx="839.66" cy="386.44" r="4.8"/><circle cx="844.05" cy="380.81" r="4.8"/><circle cx="843.53" cy="383.57" r="4.8"/><circle cx="840.01" cy="379.55" r="4.8"/><circle cx="843.73" cy="383.12" r="4.8"/><circle cx="843.18" cy="383.08" r="4.8"/><circle cx="842.23" cy="381.92" r="4.8"/><circle cx="843.08" cy="385.65" r="4.8"/><circle cx="842.86" cy="385.44" r="4.8"/><circle cx="841.72" cy="385.24" r="4.8"/><circle cx="840.66" cy="387.12" r="4.8"/><circle cx="842.35" cy="388.77" r="4.8"/><circle cx="839.96" cy="382.90" r="4.8"/><circle cx="843.38" cy="383.39" r="4.8"/><circle cx="842.83" cy="383.60" r="4.8"/><circle cx="841.81" cy="385.28" r="4.8"/><circle cx="841.39" cy="386.20" r="4.8"/><circle cx="842.76" cy="385.33" r="4.8"/><circle cx="841.78" cy="385.82" r="4.8"/><circle cx="843.81" cy="387.69" r="4.8"/><circle cx="843.02" cy="380.08" r="4.8"/><circle cx="842.09" cy="377.64" r="4.8"/><circle cx="843.32" cy="389.35" r="4.8"/><circle cx="839.31" cy="388.71" r="4.8"/><circle cx="842.69" cy="384.14" r="4.8"/><circle cx="843.25" cy="386.84" r="4.8"/><circle cx="842.81" cy="381.91" r="4.8"/><circle cx="844.05" cy="381.26" r="4.8"/><circle cx="842.47" cy="386.65" r="4.8"/><circle cx="839.66" cy="383.14" r="4.8"/><circle cx="839.44" cy="383.55" r="4.8"/><circle cx="842.44" cy="387.86" r="4.8"/><circle cx="844.06" cy="381.94" r="4.8"/><circle cx="841.13" cy="384.54" r="4.8"/><circle cx="841.50" cy="395.02" r="4.8"/><circle cx="839.49" cy="384.77" r="4.8"/><circle cx="839.33" cy="386.97" r="4.8"/><circle cx="841.91" cy="387.67" r="4.8"/><circle cx="840.46" cy="380.72" r="4.8"/><circle cx="840.56" cy="385.78" r="4.8"/><circle cx="841.53" cy="385.68" r="4.8"/><circle cx="839.58" cy="387.46" r="4.8"/><circle cx="843.93" cy="380.19" r="4.8"/><circle cx="843.75" cy="380.27" r="4.8"/><circle cx="839.69" cy="384.25" r="4.8"/><circle cx="841.88" cy="386.45" r="4.8"/><circle cx="842.99" cy="390.11" r="4.8"/><circle cx="841.62" cy="388.54" r="4.8"/><circle cx="843.31" cy="387.92" r="4.8"/><circle cx="843.49" cy="388.94" r="4.8"/><circle cx="840.41" cy="388.40" r="4.8"/><circle cx="843.04" cy="384.91" r="4.8"/><circle cx="840.39" cy="385.73" r="4.8"/><circle cx="842.50" cy="364.83" r="4.8"/><circle cx="841.55" cy="368.49" r="4.8"/><circle cx="873.37" cy="348.98" r="4.8"/><circle cx="876.48" cy="350.42" r="4.8"/><circle cx="873.92" cy="350.72" r="4.8"/><circle cx="875.66" cy="347.96" r="4.8"/><circle cx="875.18" cy="351.65" r="4.8"/><circle cx="874.56" cy="353.62" r="4.8"/><circle cx="876.64" cy="352.66" r="4.8"/><circle cx="875.32" cy="351.77" r="4.8"/><circle cx="876.11" cy="352.69" r="4.8"/><circle cx="874.18" cy="350.35" r="4.8"/><circle cx="876.08" cy="351.48" r="4.8"/><circle cx="874.97" cy="348.16" r="4.8"/><circle cx="874.82" cy="349.62" r="4.8"/><circle cx="875.27" cy="355.68" r="4.8"/><circle cx="876.98" cy="352.03" r="4.8"/><circle cx="873.24" cy="352.46" r="4.8"/><circle cx="873.91" cy="352.62" r="4.8"/><circle cx="873.25" cy="349.04" r="4.8"/><circle cx="875.98" cy="351.50" r="4.8"/><circle cx="874.76" cy="349.24" r="4.8"/><circle cx="874.62" cy="351.60" r="4.8"/><circle cx="877.73" cy="349.54" r="4.8"/><circle cx="873.15" cy="350.67" r="4.8"/><circle cx="876.69" cy="350.53" r="4.8"/><circle cx="876.40" cy="348.32" r="4.8"/><circle cx="877.58" cy="351.52" r="4.8"/><circle cx="874.43" cy="350.29" r="4.8"/><circle cx="876.56" cy="352.43" r="4.8"/><circle cx="875.93" cy="351.08" r="4.8"/><circle cx="876.99" cy="351.03" r="4.8"/><circle cx="877.70" cy="349.35" r="4.8"/><circle cx="873.26" cy="348.70" r="4.8"/><circle cx="877.09" cy="354.85" r="4.8"/><circle cx="873.47" cy="351.02" r="4.8"/><circle cx="876.53" cy="351.42" r="4.8"/><circle cx="875.28" cy="349.37" r="4.8"/><circle cx="876.84" cy="351.73" r="4.8"/><circle cx="876.91" cy="351.77" r="4.8"/><circle cx="877.53" cy="352.72" r="4.8"/><circle cx="877.03" cy="349.41" r="4.8"/><circle cx="873.60" cy="352.18" r="4.8"/><circle cx="875.43" cy="354.15" r="4.8"/><circle cx="872.97" cy="346.52" r="4.8"/><circle cx="877.62" cy="349.23" r="4.8"/><circle cx="874.46" cy="352.42" r="4.8"/><circle cx="876.42" cy="351.07" r="4.8"/><circle cx="873.69" cy="351.63" r="4.8"/><circle cx="874.12" cy="349.65" r="4.8"/><circle cx="877.27" cy="346.66" r="4.8"/><circle cx="875.25" cy="350.80" r="4.8"/><circle cx="876.88" cy="351.19" r="4.8"/><circle cx="875.93" cy="351.06" r="4.8"/><circle cx="875.51" cy="347.97" r="4.8"/><circle cx="874.90" cy="351.20" r="4.8"/><circle cx="873.74" cy="350.75" r="4.8"/><circle cx="874.98" cy="352.38" r="4.8"/><circle cx="876.20" cy="347.13" r="4.8"/><circle cx="875.36" cy="352.29" r="4.8"/><circle cx="875.67" cy="353.25" r="4.8"/><circle cx="873.74" cy="350.97" r="4.8"/><circle cx="875.08" cy="342.86" r="4.8"/><circle cx="908.88" cy="315.35" r="4.8"/><circle cx="908.93" cy="316.52" r="4.8"/><circle cx="908.32" cy="318.08" r="4.8"/><circle cx="907.76" cy="319.72" r="4.8"/><circle cx="906.92" cy="317.49" r="4.8"/><circle cx="908.09" cy="317.89" r="4.8"/><circle cx="910.42" cy="316.44" r="4.8"/><circle cx="907.04" cy="319.65" r="4.8"/><circle cx="906.31" cy="319.20" r="4.8"/><circle cx="910.28" cy="318.09" r="4.8"/><circle cx="909.81" cy="314.56" r="4.8"/><circle cx="908.51" cy="315.16" r="4.8"/><circle cx="906.56" cy="313.15" r="4.8"/><circle cx="906.97" cy="316.25" r="4.8"/><circle cx="909.59" cy="320.11" r="4.8"/><circle cx="907.60" cy="314.96" r="4.8"/><circle cx="910.33" cy="315.95" r="4.8"/><circle cx="911.11" cy="312.49" r="4.8"/><circle cx="906.53" cy="316.15" r="4.8"/><circle cx="910.38" cy="320.06" r="4.8"/><circle cx="910.74" cy="321.24" r="4.8"/><circle cx="909.24" cy="309.92" r="4.8"/><circle cx="909.16" cy="322.73" r="4.8"/><circle cx="909.27" cy="313.88" r="4.8"/><circle cx="908.85" cy="317.64" r="4.8"/><circle cx="908.73" cy="315.36" r="4.8"/><circle cx="907.07" cy="316.54" r="4.8"/><circle cx="906.25" cy="311.03" r="4.8"/><circle cx="906.55" cy="315.26" r="4.8"/><circle cx="906.37" cy="312.81" r="4.8"/><circle cx="907.18" cy="315.28" r="4.8"/><circle cx="907.05" cy="314.14" r="4.8"/><circle cx="910.83" cy="316.76" r="4.8"/><circle cx="906.77" cy="315.23" r="4.8"/><circle cx="909.33" cy="320.49" r="4.8"/><circle cx="909.55" cy="319.93" r="4.8"/><circle cx="907.24" cy="315.03" r="4.8"/><circle cx="908.32" cy="317.47" r="4.8"/><circle cx="908.85" cy="317.71" r="4.8"/><circle cx="909.48" cy="319.00" r="4.8"/><circle cx="909.50" cy="318.10" r="4.8"/><circle cx="908.33" cy="317.72" r="4.8"/><circle cx="909.33" cy="319.19" r="4.8"/><circle cx="908.80" cy="315.85" r="4.8"/><circle cx="906.56" cy="313.83" r="4.8"/><circle cx="909.40" cy="320.41" r="4.8"/><circle cx="911.25" cy="312.80" r="4.8"/><circle cx="909.89" cy="314.43" r="4.8"/><circle cx="908.65" cy="314.87" r="4.8"/><circle cx="908.95" cy="314.05" r="4.8"/><circle cx="908.13" cy="313.72" r="4.8"/><circle cx="908.44" cy="320.51" r="4.8"/><circle cx="910.84" cy="317.87" r="4.8"/><circle cx="906.65" cy="321.03" r="4.8"/><circle cx="909.54" cy="319.62" r="4.8"/><circle cx="907.13" cy="316.77" r="4.8"/><circle cx="911.26" cy="322.37" r="4.8"/><circle cx="907.56" cy="314.02" r="4.8"/><circle cx="909.49" cy="317.99" r="4.8"/><circle cx="906.86" cy="316.60" r="4.8"/><circle cx="940.11" cy="330.89" r="4.8"/><circle cx="941.08" cy="329.02" r="4.8"/><circle cx="941.57" cy="323.36" r="4.8"/><circle cx="944.36" cy="333.75" r="4.8"/><circle cx="944.45" cy="331.35" r="4.8"/><circle cx="944.56" cy="327.76" r="4.8"/><circle cx="944.39" cy="326.35" r="4.8"/><circle cx="941.88" cy="333.25" r="4.8"/><circle cx="940.38" cy="325.56" r="4.8"/><circle cx="944.24" cy="335.48" r="4.8"/><circle cx="939.90" cy="337.17" r="4.8"/><circle cx="943.58" cy="322.23" r="4.8"/><circle cx="940.53" cy="328.97" r="4.8"/><circle cx="942.79" cy="336.86" r="4.8"/><circle cx="943.19" cy="324.22" r="4.8"/><circle cx="943.66" cy="333.09" r="4.8"/><circle cx="940.29" cy="339.13" r="4.8"/><circle cx="942.91" cy="340.00" r="4.8"/><circle cx="943.74" cy="326.18" r="4.8"/><circle cx="943.56" cy="328.26" r="4.8"/><circle cx="941.64" cy="337.46" r="4.8"/><circle cx="944.57" cy="320.90" r="4.8"/><circle cx="943.38" cy="334.02" r="4.8"/><circle cx="942.83" cy="326.36" r="4.8"/><circle cx="943.48" cy="332.18" r="4.8"/><circle cx="941.92" cy="336.15" r="4.8"/><circle cx="943.50" cy="324.44" r="4.8"/><circle cx="940.72" cy="328.53" r="4.8"/><circle cx="943.10" cy="337.69" r="4.8"/><circle cx="943.02" cy="329.42" r="4.8"/><circle cx="944.51" cy="326.27" r="4.8"/><circle cx="942.97" cy="332.94" r="4.8"/><circle cx="941.98" cy="327.70" r="4.8"/><circle cx="943.61" cy="337.75" r="4.8"/><circle cx="943.58" cy="334.51" r="4.8"/><circle cx="941.36" cy="328.30" r="4.8"/><circle cx="942.85" cy="333.05" r="4.8"/><circle cx="941.17" cy="323.05" r="4.8"/><circle cx="942.00" cy="331.94" r="4.8"/><circle cx="942.70" cy="331.68" r="4.8"/><circle cx="939.99" cy="326.51" r="4.8"/><circle cx="944.07" cy="326.81" r="4.8"/><circle cx="940.33" cy="333.12" r="4.8"/><circle cx="941.08" cy="330.45" r="4.8"/><circle cx="941.50" cy="335.68" r="4.8"/><circle cx="939.99" cy="328.02" r="4.8"/><circle cx="942.40" cy="341.03" r="4.8"/><circle cx="941.19" cy="331.03" r="4.8"/><circle cx="944.30" cy="334.00" r="4.8"/><circle cx="942.23" cy="327.84" r="4.8"/><circle cx="941.29" cy="333.47" r="4.8"/><circle cx="942.49" cy="328.91" r="4.8"/><circle cx="942.87" cy="334.37" r="4.8"/><circle cx="940.61" cy="331.45" r="4.8"/><circle cx="939.92" cy="326.52" r="4.8"/><circle cx="941.03" cy="333.22" r="4.8"/><circle cx="942.62" cy="319.99" r="4.8"/><circle cx="942.47" cy="325.60" r="4.8"/><circle cx="943.86" cy="332.43" r="4.8"/><circle cx="940.49" cy="329.72" r="4.8"/><circle cx="941.83" cy="341.95" r="4.8"/><circle cx="943.51" cy="318.16" r="4.8"/><circle cx="975.53" cy="305.36" r="4.8"/><circle cx="974.18" cy="302.09" r="4.8"/><circle cx="976.83" cy="305.99" r="4.8"/><circle cx="977.61" cy="305.64" r="4.8"/><circle cx="974.43" cy="293.45" r="4.8"/><circle cx="976.65" cy="301.32" r="4.8"/><circle cx="975.38" cy="299.12" r="4.8"/><circle cx="976.26" cy="303.85" r="4.8"/><circle cx="973.75" cy="299.28" r="4.8"/><circle cx="973.81" cy="302.17" r="4.8"/><circle cx="978.63" cy="303.58" r="4.8"/><circle cx="978.00" cy="300.35" r="4.8"/><circle cx="976.09" cy="300.00" r="4.8"/><circle cx="976.50" cy="294.98" r="4.8"/><circle cx="974.96" cy="299.08" r="4.8"/><circle cx="977.57" cy="300.10" r="4.8"/><circle cx="975.79" cy="303.25" r="4.8"/><circle cx="978.41" cy="299.58" r="4.8"/><circle cx="977.51" cy="299.37" r="4.8"/><circle cx="977.77" cy="302.07" r="4.8"/><circle cx="978.50" cy="305.41" r="4.8"/><circle cx="974.92" cy="295.60" r="4.8"/><circle cx="973.83" cy="298.96" r="4.8"/><circle cx="974.66" cy="296.08" r="4.8"/><circle cx="974.55" cy="297.10" r="4.8"/><circle cx="974.06" cy="302.53" r="4.8"/><circle cx="973.90" cy="304.14" r="4.8"/><circle cx="976.45" cy="299.73" r="4.8"/><circle cx="978.03" cy="301.27" r="4.8"/><circle cx="975.95" cy="304.33" r="4.8"/><circle cx="978.41" cy="304.36" r="4.8"/><circle cx="978.23" cy="301.43" r="4.8"/><circle cx="973.97" cy="301.15" r="4.8"/><circle cx="976.66" cy="295.68" r="4.8"/><circle cx="975.64" cy="305.90" r="4.8"/><circle cx="974.25" cy="307.01" r="4.8"/><circle cx="978.47" cy="309.92" r="4.8"/><circle cx="974.94" cy="299.60" r="4.8"/><circle cx="976.49" cy="303.55" r="4.8"/><circle cx="976.87" cy="304.16" r="4.8"/><circle cx="978.46" cy="303.18" r="4.8"/><circle cx="977.02" cy="300.98" r="4.8"/><circle cx="975.62" cy="300.42" r="4.8"/><circle cx="975.90" cy="301.48" r="4.8"/><circle cx="974.45" cy="299.90" r="4.8"/><circle cx="978.51" cy="303.70" r="4.8"/><circle cx="978.64" cy="303.51" r="4.8"/><circle cx="974.76" cy="305.63" r="4.8"/><circle cx="973.84" cy="308.06" r="4.8"/><circle cx="974.93" cy="308.98" r="4.8"/><circle cx="975.42" cy="294.80" r="4.8"/><circle cx="978.19" cy="297.54" r="4.8"/><circle cx="978.20" cy="306.38" r="4.8"/><circle cx="977.86" cy="302.31" r="4.8"/><circle cx="973.88" cy="305.51" r="4.8"/><circle cx="977.60" cy="302.94" r="4.8"/><circle cx="977.22" cy="304.39" r="4.8"/><circle cx="976.90" cy="297.67" r="4.8"/><circle cx="978.61" cy="293.74" r="4.8"/><circle cx="973.92" cy="297.15" r="4.8"/><circle cx="1007.52" cy="275.88" r="4.8"/><circle cx="1009.32" cy="279.27" r="4.8"/><circle cx="1011.45" cy="280.46" r="4.8"/><circle cx="1008.57" cy="269.65" r="4.8"/><circle cx="1011.22" cy="286.86" r="4.8"/><circle cx="1007.39" cy="282.35" r="4.8"/><circle cx="1011.36" cy="283.92" r="4.8"/><circle cx="1008.20" cy="282.44" r="4.8"/><circle cx="1008.21" cy="278.72" r="4.8"/><circle cx="1007.93" cy="287.73" r="4.8"/><circle cx="1010.99" cy="286.28" r="4.8"/><circle cx="1007.66" cy="281.00" r="4.8"/><circle cx="1006.86" cy="276.99" r="4.8"/><circle cx="1006.68" cy="284.65" r="4.8"/><circle cx="1009.34" cy="288.35" r="4.8"/><circle cx="1009.62" cy="277.56" r="4.8"/><circle cx="1008.32" cy="273.77" r="4.8"/><circle cx="1009.88" cy="282.72" r="4.8"/><circle cx="1009.17" cy="285.82" r="4.8"/><circle cx="1010.77" cy="288.13" r="4.8"/><circle cx="1008.35" cy="286.52" r="4.8"/><circle cx="1010.41" cy="278.73" r="4.8"/><circle cx="1009.19" cy="284.28" r="4.8"/><circle cx="1011.55" cy="289.12" r="4.8"/><circle cx="1009.98" cy="285.44" r="4.8"/><circle cx="1011.27" cy="283.66" r="4.8"/><circle cx="1008.67" cy="274.12" r="4.8"/><circle cx="1009.93" cy="276.93" r="4.8"/><circle cx="1007.28" cy="283.83" r="4.8"/><circle cx="1007.59" cy="283.45" r="4.8"/><circle cx="1009.64" cy="282.10" r="4.8"/><circle cx="1007.96" cy="275.33" r="4.8"/><circle cx="1010.79" cy="280.34" r="4.8"/><circle cx="1007.05" cy="280.41" r="4.8"/><circle cx="1010.88" cy="290.52" r="4.8"/><circle cx="1011.21" cy="280.04" r="4.8"/><circle cx="1011.58" cy="273.93" r="4.8"/><circle cx="1007.92" cy="292.33" r="4.8"/><circle cx="1009.74" cy="276.99" r="4.8"/><circle cx="1009.75" cy="276.07" r="4.8"/><circle cx="1010.11" cy="279.77" r="4.8"/><circle cx="1008.65" cy="281.82" r="4.8"/><circle cx="1007.09" cy="273.17" r="4.8"/><circle cx="1008.64" cy="287.60" r="4.8"/><circle cx="1009.34" cy="280.71" r="4.8"/><circle cx="1007.16" cy="275.97" r="4.8"/><circle cx="1008.57" cy="287.37" r="4.8"/><circle cx="1011.57" cy="282.27" r="4.8"/><circle cx="1007.32" cy="283.03" r="4.8"/><circle cx="1010.85" cy="277.07" r="4.8"/><circle cx="1007.98" cy="294.36" r="4.8"/><circle cx="1009.70" cy="288.32" r="4.8"/><circle cx="1007.13" cy="278.05" r="4.8"/><circle cx="1010.86" cy="280.83" r="4.8"/><circle cx="1010.06" cy="280.12" r="4.8"/><circle cx="1008.02" cy="275.41" r="4.8"/><circle cx="1008.34" cy="281.57" r="4.8"/><circle cx="1008.35" cy="279.37" r="4.8"/><circle cx="1009.22" cy="284.39" r="4.8"/><circle cx="1009.57" cy="288.73" r="4.8"/><circle cx="1044.21" cy="256.71" r="4.8"/><circle cx="1040.06" cy="265.93" r="4.8"/><circle cx="1043.34" cy="254.00" r="4.8"/><circle cx="1042.79" cy="264.85" r="4.8"/><circle cx="1044.03" cy="263.51" r="4.8"/><circle cx="1043.90" cy="256.22" r="4.8"/><circle cx="1042.44" cy="257.61" r="4.8"/><circle cx="1043.00" cy="255.13" r="4.8"/><circle cx="1044.40" cy="257.30" r="4.8"/><circle cx="1042.92" cy="261.74" r="4.8"/><circle cx="1039.68" cy="262.15" r="4.8"/><circle cx="1041.10" cy="258.40" r="4.8"/><circle cx="1043.41" cy="265.42" r="4.8"/><circle cx="1041.23" cy="272.40" r="4.8"/><circle cx="1044.10" cy="258.56" r="4.8"/><circle cx="1041.60" cy="261.70" r="4.8"/><circle cx="1043.24" cy="253.63" r="4.8"/><circle cx="1044.52" cy="263.12" r="4.8"/><circle cx="1042.59" cy="250.93" r="4.8"/><circle cx="1040.61" cy="257.00" r="4.8"/><circle cx="1042.15" cy="259.33" r="4.8"/><circle cx="1041.25" cy="265.11" r="4.8"/><circle cx="1044.28" cy="260.17" r="4.8"/><circle cx="1041.72" cy="257.14" r="4.8"/><circle cx="1041.21" cy="262.23" r="4.8"/><circle cx="1042.03" cy="261.86" r="4.8"/><circle cx="1042.96" cy="256.59" r="4.8"/><circle cx="1043.72" cy="260.80" r="4.8"/><circle cx="1042.65" cy="258.35" r="4.8"/><circle cx="1042.06" cy="265.83" r="4.8"/><circle cx="1042.90" cy="262.03" r="4.8"/><circle cx="1040.53" cy="258.31" r="4.8"/><circle cx="1042.88" cy="258.48" r="4.8"/><circle cx="1043.76" cy="259.19" r="4.8"/><circle cx="1043.41" cy="259.33" r="4.8"/><circle cx="1041.96" cy="262.57" r="4.8"/><circle cx="1040.45" cy="262.85" r="4.8"/><circle cx="1044.29" cy="260.97" r="4.8"/><circle cx="1043.65" cy="268.83" r="4.8"/><circle cx="1042.31" cy="262.79" r="4.8"/><circle cx="1040.37" cy="258.24" r="4.8"/><circle cx="1040.32" cy="255.55" r="4.8"/><circle cx="1043.43" cy="256.94" r="4.8"/><circle cx="1040.68" cy="264.58" r="4.8"/><circle cx="1040.80" cy="266.46" r="4.8"/><circle cx="1044.35" cy="262.79" r="4.8"/><circle cx="1040.34" cy="249.52" r="4.8"/><circle cx="1041.24" cy="251.38" r="4.8"/><circle cx="1039.96" cy="256.97" r="4.8"/><circle cx="1042.70" cy="261.57" r="4.8"/><circle cx="1040.19" cy="263.05" r="4.8"/><circle cx="1042.95" cy="260.28" r="4.8"/><circle cx="1041.94" cy="264.56" r="4.8"/><circle cx="1041.93" cy="250.09" r="4.8"/><circle cx="1043.05" cy="265.23" r="4.8"/><circle cx="1039.52" cy="260.57" r="4.8"/><circle cx="1042.98" cy="255.22" r="4.8"/><circle cx="1040.16" cy="261.81" r="4.8"/><circle cx="1042.72" cy="255.44" r="4.8"/><circle cx="1043.01" cy="256.27" r="4.8"/><circle cx="1040.17" cy="277.89" r="4.8"/><circle cx="1043.06" cy="275.15" r="4.8"/><circle cx="1042.45" cy="247.69" r="4.8"/><circle cx="1072.52" cy="248.54" r="4.8"/><circle cx="1074.73" cy="248.07" r="4.8"/><circle cx="1077.39" cy="250.83" r="4.8"/><circle cx="1072.65" cy="259.11" r="4.8"/><circle cx="1073.15" cy="254.37" r="4.8"/><circle cx="1075.80" cy="250.75" r="4.8"/><circle cx="1073.79" cy="242.63" r="4.8"/><circle cx="1073.80" cy="252.56" r="4.8"/><circle cx="1074.94" cy="249.70" r="4.8"/><circle cx="1073.74" cy="247.55" r="4.8"/><circle cx="1075.28" cy="247.04" r="4.8"/><circle cx="1075.08" cy="251.64" r="4.8"/><circle cx="1077.24" cy="245.49" r="4.8"/><circle cx="1077.42" cy="252.14" r="4.8"/><circle cx="1072.59" cy="249.18" r="4.8"/><circle cx="1075.24" cy="249.95" r="4.8"/><circle cx="1076.30" cy="245.94" r="4.8"/><circle cx="1076.81" cy="250.84" r="4.8"/><circle cx="1076.32" cy="246.46" r="4.8"/><circle cx="1075.61" cy="250.22" r="4.8"/><circle cx="1075.62" cy="243.73" r="4.8"/><circle cx="1074.25" cy="245.83" r="4.8"/><circle cx="1073.84" cy="253.18" r="4.8"/><circle cx="1076.42" cy="255.12" r="4.8"/><circle cx="1076.81" cy="257.61" r="4.8"/><circle cx="1077.15" cy="251.02" r="4.8"/><circle cx="1075.85" cy="255.13" r="4.8"/><circle cx="1073.95" cy="246.98" r="4.8"/><circle cx="1076.26" cy="251.01" r="4.8"/><circle cx="1076.14" cy="249.44" r="4.8"/><circle cx="1074.98" cy="246.61" r="4.8"/><circle cx="1075.62" cy="251.12" r="4.8"/><circle cx="1074.18" cy="249.45" r="4.8"/><circle cx="1075.19" cy="249.81" r="4.8"/><circle cx="1074.46" cy="258.82" r="4.8"/><circle cx="1072.72" cy="244.98" r="4.8"/><circle cx="1074.12" cy="254.28" r="4.8"/><circle cx="1074.05" cy="251.71" r="4.8"/><circle cx="1077.40" cy="251.94" r="4.8"/><circle cx="1074.84" cy="254.40" r="4.8"/><circle cx="1074.27" cy="256.59" r="4.8"/><circle cx="1073.65" cy="249.14" r="4.8"/><circle cx="1073.60" cy="245.56" r="4.8"/><circle cx="1074.18" cy="250.15" r="4.8"/><circle cx="1073.10" cy="253.35" r="4.8"/><circle cx="1072.46" cy="242.20" r="4.8"/><circle cx="1076.81" cy="260.50" r="4.8"/><circle cx="1074.70" cy="251.87" r="4.8"/><circle cx="1074.66" cy="254.16" r="4.8"/><circle cx="1075.28" cy="251.17" r="4.8"/><circle cx="1073.94" cy="253.94" r="4.8"/><circle cx="1073.27" cy="248.24" r="4.8"/><circle cx="1072.75" cy="254.39" r="4.8"/><circle cx="1073.94" cy="246.48" r="4.8"/><circle cx="1073.97" cy="257.35" r="4.8"/><circle cx="1076.08" cy="251.66" r="4.8"/><circle cx="1075.20" cy="244.66" r="4.8"/><circle cx="1077.14" cy="253.66" r="4.8"/><circle cx="1074.13" cy="248.32" r="4.8"/><circle cx="1077.06" cy="255.90" r="4.8"/><circle cx="1106.36" cy="238.61" r="4.8"/><circle cx="1104.89" cy="245.39" r="4.8"/><circle cx="1109.48" cy="240.84" r="4.8"/><circle cx="1105.91" cy="242.18" r="4.8"/><circle cx="1107.89" cy="248.04" r="4.8"/><circle cx="1108.73" cy="235.83" r="4.8"/><circle cx="1104.93" cy="231.84" r="4.8"/><circle cx="1108.59" cy="230.46" r="4.8"/><circle cx="1107.92" cy="232.83" r="4.8"/><circle cx="1109.22" cy="243.38" r="4.8"/><circle cx="1108.42" cy="235.71" r="4.8"/><circle cx="1105.89" cy="235.72" r="4.8"/><circle cx="1108.81" cy="245.97" r="4.8"/><circle cx="1108.89" cy="241.70" r="4.8"/><circle cx="1106.32" cy="238.86" r="4.8"/><circle cx="1107.54" cy="238.08" r="4.8"/><circle cx="1107.44" cy="238.26" r="4.8"/><circle cx="1109.60" cy="248.08" r="4.8"/><circle cx="1104.90" cy="238.50" r="4.8"/><circle cx="1108.38" cy="236.00" r="4.8"/><circle cx="1106.40" cy="231.31" r="4.8"/><circle cx="1105.60" cy="242.71" r="4.8"/><circle cx="1105.42" cy="238.77" r="4.8"/><circle cx="1106.41" cy="233.85" r="4.8"/><circle cx="1107.96" cy="228.47" r="4.8"/><circle cx="1105.34" cy="243.70" r="4.8"/><circle cx="1107.90" cy="234.59" r="4.8"/><circle cx="1105.47" cy="236.76" r="4.8"/><circle cx="1109.34" cy="239.29" r="4.8"/><circle cx="1108.88" cy="241.75" r="4.8"/><circle cx="1107.85" cy="238.59" r="4.8"/><circle cx="1109.16" cy="239.93" r="4.8"/><circle cx="1106.19" cy="237.63" r="4.8"/><circle cx="1106.39" cy="242.24" r="4.8"/><circle cx="1108.92" cy="229.50" r="4.8"/><circle cx="1106.73" cy="243.54" r="4.8"/><circle cx="1106.64" cy="248.61" r="4.8"/><circle cx="1108.11" cy="238.97" r="4.8"/><circle cx="1106.46" cy="233.05" r="4.8"/><circle cx="1106.41" cy="233.04" r="4.8"/><circle cx="1107.91" cy="242.71" r="4.8"/><circle cx="1107.20" cy="230.48" r="4.8"/><circle cx="1106.09" cy="236.65" r="4.8"/><circle cx="1107.91" cy="236.83" r="4.8"/><circle cx="1105.96" cy="237.22" r="4.8"/><circle cx="1106.03" cy="241.76" r="4.8"/><circle cx="1106.82" cy="238.31" r="4.8"/><circle cx="1105.13" cy="232.55" r="4.8"/><circle cx="1107.77" cy="235.76" r="4.8"/><circle cx="1108.25" cy="232.55" r="4.8"/><circle cx="1105.45" cy="233.00" r="4.8"/><circle cx="1107.18" cy="236.14" r="4.8"/><circle cx="1104.60" cy="238.77" r="4.8"/><circle cx="1105.23" cy="236.09" r="4.8"/><circle cx="1107.03" cy="237.69" r="4.8"/><circle cx="1107.90" cy="242.69" r="4.8"/><circle cx="1107.71" cy="236.55" r="4.8"/><circle cx="1107.21" cy="241.84" r="4.8"/><circle cx="1108.61" cy="242.30" r="4.8"/><circle cx="1105.84" cy="242.97" r="4.8"/><circle cx="1140.82" cy="218.11" r="4.8"/><circle cx="1140.12" cy="211.65" r="4.8"/><circle cx="1139.27" cy="216.76" r="4.8"/><circle cx="1140.30" cy="211.50" r="4.8"/><circle cx="1139.29" cy="214.45" r="4.8"/><circle cx="1138.91" cy="207.63" r="4.8"/><circle cx="1139.48" cy="211.98" r="4.8"/><circle cx="1142.66" cy="210.27" r="4.8"/><circle cx="1140.80" cy="211.27" r="4.8"/><circle cx="1142.76" cy="209.28" r="4.8"/><circle cx="1138.35" cy="216.63" r="4.8"/><circle cx="1143.02" cy="220.62" r="4.8"/><circle cx="1140.73" cy="220.16" r="4.8"/><circle cx="1142.25" cy="217.00" r="4.8"/><circle cx="1141.14" cy="205.60" r="4.8"/><circle cx="1141.74" cy="214.80" r="4.8"/><circle cx="1139.42" cy="216.39" r="4.8"/><circle cx="1142.05" cy="210.34" r="4.8"/><circle cx="1139.04" cy="209.98" r="4.8"/><circle cx="1139.60" cy="208.11" r="4.8"/><circle cx="1138.43" cy="226.64" r="4.8"/><circle cx="1140.25" cy="218.07" r="4.8"/><circle cx="1140.88" cy="220.88" r="4.8"/><circle cx="1139.74" cy="222.50" r="4.8"/><circle cx="1142.75" cy="208.76" r="4.8"/><circle cx="1138.70" cy="209.51" r="4.8"/><circle cx="1141.18" cy="217.41" r="4.8"/><circle cx="1139.45" cy="213.15" r="4.8"/><circle cx="1141.27" cy="215.18" r="4.8"/><circle cx="1142.22" cy="214.82" r="4.8"/><circle cx="1141.85" cy="212.12" r="4.8"/><circle cx="1138.58" cy="214.84" r="4.8"/><circle cx="1139.51" cy="218.23" r="4.8"/><circle cx="1141.29" cy="209.70" r="4.8"/><circle cx="1143.22" cy="215.45" r="4.8"/><circle cx="1138.48" cy="223.48" r="4.8"/><circle cx="1141.38" cy="219.47" r="4.8"/><circle cx="1141.75" cy="208.49" r="4.8"/><circle cx="1142.37" cy="215.89" r="4.8"/><circle cx="1139.99" cy="211.63" r="4.8"/><circle cx="1142.35" cy="215.22" r="4.8"/><circle cx="1140.60" cy="209.05" r="4.8"/><circle cx="1142.91" cy="216.71" r="4.8"/><circle cx="1138.32" cy="209.76" r="4.8"/><circle cx="1143.01" cy="218.63" r="4.8"/><circle cx="1140.34" cy="218.46" r="4.8"/><circle cx="1140.32" cy="221.75" r="4.8"/><circle cx="1138.71" cy="214.11" r="4.8"/><circle cx="1139.50" cy="213.11" r="4.8"/><circle cx="1141.97" cy="219.94" r="4.8"/><circle cx="1141.69" cy="213.74" r="4.8"/><circle cx="1139.03" cy="216.58" r="4.8"/><circle cx="1140.00" cy="209.93" r="4.8"/><circle cx="1138.98" cy="216.70" r="4.8"/><circle cx="1139.27" cy="211.91" r="4.8"/><circle cx="1139.38" cy="214.60" r="4.8"/><circle cx="1139.94" cy="219.46" r="4.8"/><circle cx="1143.19" cy="210.67" r="4.8"/><circle cx="1143.29" cy="218.69" r="4.8"/><circle cx="1142.26" cy="213.26" r="4.8"/><circle cx="1140.69" cy="233.97" r="4.8"/><circle cx="1140.77" cy="231.22" r="4.8"/><circle cx="1142.19" cy="201.94" r="4.8"/><circle cx="1142.84" cy="198.28" r="4.8"/><circle cx="1174.19" cy="200.17" r="4.8"/><circle cx="1174.61" cy="204.70" r="4.8"/><circle cx="1173.33" cy="187.63" r="4.8"/><circle cx="1175.33" cy="191.11" r="4.8"/><circle cx="1175.33" cy="188.33" r="4.8"/><circle cx="1174.55" cy="207.30" r="4.8"/><circle cx="1174.94" cy="207.29" r="4.8"/><circle cx="1174.08" cy="205.64" r="4.8"/><circle cx="1175.23" cy="198.49" r="4.8"/><circle cx="1171.47" cy="203.24" r="4.8"/><circle cx="1174.35" cy="198.49" r="4.8"/><circle cx="1174.35" cy="203.36" r="4.8"/><circle cx="1173.89" cy="212.92" r="4.8"/><circle cx="1172.19" cy="211.09" r="4.8"/><circle cx="1171.15" cy="187.29" r="4.8"/><circle cx="1173.85" cy="207.61" r="4.8"/><circle cx="1174.96" cy="199.87" r="4.8"/><circle cx="1172.18" cy="201.60" r="4.8"/><circle cx="1171.88" cy="199.44" r="4.8"/><circle cx="1171.94" cy="194.59" r="4.8"/><circle cx="1171.28" cy="201.53" r="4.8"/><circle cx="1174.21" cy="194.41" r="4.8"/><circle cx="1175.72" cy="202.37" r="4.8"/><circle cx="1174.85" cy="202.26" r="4.8"/><circle cx="1172.62" cy="205.61" r="4.8"/><circle cx="1174.33" cy="210.17" r="4.8"/><circle cx="1171.17" cy="206.03" r="4.8"/><circle cx="1175.03" cy="206.41" r="4.8"/><circle cx="1172.45" cy="187.45" r="4.8"/><circle cx="1170.83" cy="190.98" r="4.8"/><circle cx="1173.98" cy="196.73" r="4.8"/><circle cx="1171.51" cy="202.11" r="4.8"/><circle cx="1172.19" cy="191.81" r="4.8"/><circle cx="1171.11" cy="210.61" r="4.8"/><circle cx="1173.05" cy="195.75" r="4.8"/><circle cx="1173.60" cy="203.00" r="4.8"/><circle cx="1174.87" cy="206.26" r="4.8"/><circle cx="1171.01" cy="203.63" r="4.8"/><circle cx="1174.97" cy="194.76" r="4.8"/><circle cx="1171.37" cy="205.45" r="4.8"/><circle cx="1171.94" cy="191.96" r="4.8"/><circle cx="1173.98" cy="193.42" r="4.8"/><circle cx="1172.52" cy="197.73" r="4.8"/><circle cx="1172.48" cy="199.49" r="4.8"/><circle cx="1173.67" cy="194.31" r="4.8"/><circle cx="1171.91" cy="193.63" r="4.8"/><circle cx="1174.80" cy="194.29" r="4.8"/><circle cx="1171.86" cy="202.50" r="4.8"/><circle cx="1175.04" cy="196.06" r="4.8"/><circle cx="1174.88" cy="191.44" r="4.8"/><circle cx="1173.51" cy="216.58" r="4.8"/><circle cx="1170.96" cy="180.89" r="4.8"/><circle cx="1206.35" cy="177.99" r="4.8"/><circle cx="1204.70" cy="197.04" r="4.8"/><circle cx="1206.10" cy="179.45" r="4.8"/><circle cx="1205.25" cy="177.87" r="4.8"/><circle cx="1205.62" cy="191.62" r="4.8"/><circle cx="1206.42" cy="171.19" r="4.8"/><circle cx="1205.20" cy="196.79" r="4.8"/><circle cx="1202.79" cy="186.09" r="4.8"/><circle cx="1202.67" cy="200.25" r="4.8"/><circle cx="1203.49" cy="174.69" r="4.8"/><circle cx="1201.51" cy="200.94" r="4.8"/><circle cx="1202.57" cy="199.20" r="4.8"/><circle cx="1205.87" cy="199.13" r="4.8"/><circle cx="1206.05" cy="175.04" r="4.8"/><circle cx="1203.06" cy="198.70" r="4.8"/><circle cx="1205.29" cy="169.26" r="4.8"/><circle cx="1205.31" cy="175.86" r="4.8"/><circle cx="1205.89" cy="169.32" r="4.8"/><circle cx="1205.41" cy="173.20" r="4.8"/><circle cx="1204.09" cy="186.77" r="4.8"/><circle cx="1201.94" cy="178.37" r="4.8"/><circle cx="1205.57" cy="164.42" r="4.8"/><circle cx="1202.99" cy="201.02" r="4.8"/><circle cx="1204.57" cy="182.13" r="4.8"/><circle cx="1203.26" cy="189.84" r="4.8"/><circle cx="1204.12" cy="186.43" r="4.8"/><circle cx="1206.27" cy="185.97" r="4.8"/><circle cx="1202.22" cy="177.15" r="4.8"/><circle cx="1204.08" cy="190.48" r="4.8"/><circle cx="1204.68" cy="185.79" r="4.8"/><circle cx="1204.12" cy="174.47" r="4.8"/><circle cx="1206.13" cy="186.66" r="4.8"/><circle cx="1203.46" cy="184.98" r="4.8"/><circle cx="1206.01" cy="187.89" r="4.8"/><circle cx="1204.88" cy="177.50" r="4.8"/><circle cx="1206.28" cy="187.18" r="4.8"/><circle cx="1201.86" cy="165.39" r="4.8"/><circle cx="1202.48" cy="181.14" r="4.8"/><circle cx="1202.86" cy="185.93" r="4.8"/><circle cx="1205.97" cy="179.30" r="4.8"/><circle cx="1201.48" cy="205.60" r="4.8"/><circle cx="1202.72" cy="154.35" r="4.8"/></g>
<g fill="none" stroke="#0000ff" stroke-width="1.2"><circle cx="811.03" cy="438.99" r="4.8"/><circle cx="807.61" cy="428.07" r="4.8"/><circle cx="809.90" cy="430.66" r="4.8"/><circle cx="808.33" cy="428.31" r="4.8"/><circle cx="808.47" cy="432.65" r="4.8"/><circle cx="810.97" cy="434.75" r="4.8"/><circle cx="809.64" cy="433.78" r="4.8"/><circle cx="809.91" cy="431.18" r="4.8"/><circle cx="810.91" cy="430.73" r="4.8"/><circle cx="811.67" cy="438.76" r="4.8"/><circle cx="809.31" cy="439.05" r="4.8"/><circle cx="810.16" cy="428.82" r="4.8"/><circle cx="809.63" cy="428.14" r="4.8"/><circle cx="809.66" cy="430.33" r="4.8"/><circle cx="810.57" cy="436.72" r="4.8"/><circle cx="809.36" cy="427.75" r="4.8"/><circle cx="809.77" cy="431.96" r="4.8"/><circle cx="809.49" cy="434.43" r="4.8"/><circle cx="811.82" cy="434.12" r="4.8"/><circle cx="810.60" cy="440.68" r="4.8"/><circle cx="811.49" cy="430.54" r="4.8"/><circle cx="811.82" cy="439.69" r="4.8"/><circle cx="808.39" cy="430.11" r="4.8"/><circle cx="809.90" cy="433.46" r="4.8"/><circle cx="811.83" cy="429.30" r="4.8"/><circle cx="811.31" cy="436.89" r="4.8"/><circle cx="807.77" cy="429.62" r="4.8"/><circle cx="807.69" cy="429.09" r="4.8"/><circle cx="809.31" cy="430.96" r="4.8"/><circle cx="807.45" cy="437.66" r="4.8"/><circle cx="808.29" cy="431.12" r="4.8"/><circle cx="807.45" cy="428.00" r="4.8"/><circle cx="810.45" cy="432.00" r="4.8"/><circle cx="811.03" cy="432.98" r="4.8"/><circle cx="811.60" cy="437.22" r="4.8"/><circle cx="807.86" cy="433.81" r="4.8"/><circle cx="810.69" cy="427.85" r="4.8"/><circle cx="810.40" cy="434.01" r="4.8"/><circle cx="807.80" cy="431.21" r="4.8"/><circle cx="811.53" cy="432.94" r="4.8"/><circle cx="811.95" cy="427.64" r="4.8"/><circle cx="808.19" cy="432.76" r="4.8"/><circle cx="811.88" cy="427.98" r="4.8"/><circle cx="809.09" cy="432.82" r="4.8"/><circle cx="809.53" cy="438.92" r="4.8"/><circle cx="812.06" cy="430.88" r="4.8"/><circle cx="811.27" cy="437.19" r="4.8"/><circle cx="807.89" cy="434.11" r="4.8"/><circle cx="809.25" cy="436.99" r="4.8"/><circle cx="809.68" cy="434.71" r="4.8"/><circle cx="808.79" cy="437.63" r="4.8"/><circle cx="808.07" cy="429.84" r="4.8"/><circle cx="808.68" cy="435.67" r="4.8"/><circle cx="810.72" cy="441.70" r="4.8"/><circle cx="807.18" cy="425.22" r="4.8"/><circle cx="809.87" cy="429.46" r="4.8"/><circle cx="809.30" cy="428.02" r="4.8"/><circle cx="807.17" cy="438.84" r="4.8"/><circle cx="808.75" cy="429.47" r="4.8"/><circle cx="810.22" cy="434.54" r="4.8"/><circle cx="809.66" cy="423.39" r="4.8"/><circle cx="807.40" cy="442.61" r="4.8"/><circle cx="840.52" cy="383.50" r="4.8"/><circle cx="842.95" cy="385.88" r="4.8"/><circle cx="842.52" cy="383.50" r="4.8"/><circle cx="841.28" cy="383.60" r="4.8"/><circle cx="840.43" cy="382.16" r="4.8"/><circle cx="841.66" cy="389.06" r="4.8"/><circle cx="842.60" cy="382.37" r="4.8"/><circle cx="839.83" cy="391.66" r="4.8"/><circle cx="842.47" cy="386.64" r="4.8"/><circle cx="839.61" cy="387.34" r="4.8"/><circle cx="841.75" cy="394.97" r="4.8"/><circle cx="843.32" cy="379.42" r="4.8"/><circle cx="842.00" cy="385.47" r="4.8"/><circle cx="841.51" cy="386.58" r="4.8"/><circle cx="840.91" cy="389.34" r="4.8"/><circle cx="843.05" cy="391.52" r="4.8"/><circle cx="841.38" cy="376.07" r="4.8"/><circle cx="841.99" cy="374.89" r="4.8"/><circle cx="840.46" cy="383.16" r="4.8"/><circle cx="840.11" cy="389.46" r="4.8"/><circle cx="842.03" cy="384.94" r="4.8"/><circle cx="840.84" cy="390.82" r="4.8"/><circle cx="841.09" cy="386.04" r="4.8"/><circle cx="843.31" cy="385.59" r="4.8"/><circle cx="840.25" cy="383.61" r="4.8"/><circle cx="839.33" cy="382.70" r="4.8"/><circle cx="843.61" cy="383.13" r="4.8"/><circle cx="841.16" cy="387.70" r="4.8"/><circle cx="842.99" cy="383.72" r="4.8"/><circle cx="840.29" cy="388.75" r="4.8"/><circle cx="840.59" cy="387.58" r="4.8"/><circle cx="843.02" cy="382.53" r="4.8"/><circle cx="841.74" cy="392.75" r="4.8"/><circle cx="842.12" cy="380.79" r="4.8"/><circle cx="841.04" cy="382.03" r="4.8"/><circle cx="842.69" cy="380.50" r="4.8"/><circle cx="841.90" cy="381.83" r="4.8"/><circle cx="843.21" cy="383.40" r="4.8"/><circle cx="843.50" cy="381.20" r="4.8"/><circle cx="839.70" cy="387.98" r="4.8"/><circle cx="843.75" cy="387.47" r="4.8"/><circle cx="841.17" cy="388.20" r="4.8"/><circle cx="842.48" cy="384.36" r="4.8"/><circle cx="841.41" cy="384.30" r="4.8"/><circle cx="840.80" cy="380.87" r="4.8"/><circle cx="843.33" cy="387.60" r="4.8"/><circle cx="844.11" cy="378.69" r="4.8"/><circle cx="839.87" cy="384.50" r="4.8"/><circle cx="841.37" cy="383.82" r="4.8"/><circle cx="843.08" cy="381.62" r="4.8"/><circle cx="843.28" cy="386.96" r="4.8"/><circle cx="844.11" cy="380.31" r="4.8"/><circle cx="841.70" cy="381.42" r="4.8"/><circle cx="839.60" cy="382.76" r="4.8"/><circle cx="843.92" cy="385.29" r="4.8"/><circle cx="843.90" cy="395.94" r="4.8"/><circle cx="841.89" cy="382.52" r="4.8"/><circle cx="841.59" cy="379.50" r="4.8"/><circle cx="841.49" cy="379.08" r="4.8"/><circle cx="843.17" cy="389.27" r="4.8"/><circle cx="840.36" cy="373.06" r="4.8"/><circle cx="873.59" cy="369.06" r="4.8"/><circle cx="873.19" cy="367.94" r="4.8"/><circle cx="873.65" cy="368.51" r="4.8"/><circle cx="876.99" cy="369.41" r="4.8"/><circle cx="874.93" cy="368.53" r="4.8"/><circle cx="875.82" cy="368.41" r="4.8"/><circle cx="877.60" cy="369.79" r="4.8"/><circle cx="876.64" cy="367.96" r="4.8"/><circle cx="873.80" cy="370.23" r="4.8"/><circle cx="874.68" cy="370.15" r="4.8"/><circle cx="873.75" cy="369.76" r="4.8"/><circle cx="873.80" cy="369.02" r="4.8"/><circle cx="873.27" cy="370.07" r="4.8"/><circle cx="874.86" cy="372.23" r="4.8"/><circle cx="876.73" cy="369.23" r="4.8"/><circle cx="876.92" cy="369.37" r="4.8"/><circle cx="876.98" cy="369.03" r="4.8"/><circle cx="874.45" cy="367.09" r="4.8"/><circle cx="877.15" cy="368.90" r="4.8"/><circle cx="873.15" cy="368.31" r="4.8"/><circle cx="877.53" cy="367.66" r="4.8"/><circle cx="874.51" cy="368.13" r="4.8"/><circle cx="875.99" cy="370.86" r="4.8"/><circle cx="876.14" cy="365.74" r="4.8"/><circle cx="873.37" cy="368.85" r="4.8"/><circle cx="876.52" cy="369.18" r="4.8"/><circle cx="876.40" cy="369.52" r="4.8"/><circle cx="877.42" cy="368.33" r="4.8"/><circle cx="876.16" cy="368.43" r="4.8"/><circle cx="877.24" cy="369.58" r="4.8"/><circle cx="876.06" cy="367.66" r="4.8"/><circle cx="876.03" cy="368.90" r="4.8"/><circle cx="873.92" cy="368.06" r="4.8"/><circle cx="875.31" cy="370.19" r="4.8"/><circle cx="875.78" cy="368.19" r="4.8"/><circle cx="873.14" cy="370.10" r="4.8"/><circle cx="877.66" cy="367.09" r="4.8"/><circle cx="873.72" cy="367.41" r="4.8"/><circle cx="874.74" cy="368.72" r="4.8"/><circle cx="873.68" cy="368.18" r="4.8"/><circle cx="877.82" cy="369.25" r="4.8"/><circle cx="877.04" cy="371.73" r="4.8"/><circle cx="873.90" cy="367.51" r="4.8"/><circle cx="877.38" cy="369.78" r="4.8"/><circle cx="877.17" cy="370.19" r="4.8"/><circle cx="876.32" cy="369.54" r="4.8"/><circle cx="876.29" cy="370.89" r="4.8"/><circle cx="874.56" cy="368.48" r="4.8"/><circle cx="874.89" cy="368.93" r="4.8"/><circle cx="875.23" cy="367.31" r="4.8"/><circle cx="877.21" cy="365.92" r="4.8"/><circle cx="876.85" cy="368.16" r="4.8"/><circle cx="876.20" cy="369.31" r="4.8"/><circle cx="874.48" cy="373.06" r="4.8"/><circle cx="874.19" cy="371.78" r="4.8"/><circle cx="874.89" cy="372.13" r="4.8"/><circle cx="874.78" cy="368.55" r="4.8"/><circle cx="875.47" cy="370.35" r="4.8"/><circle cx="873.83" cy="370.19" r="4.8"/><circle cx="872.95" cy="368.90" r="4.8"/><circle cx="906.25" cy="359.76" r="4.8"/><circle cx="907.26" cy="359.41" r="4.8"/><circle cx="910.08" cy="361.60" r="4.8"/><circle cx="911.17" cy="356.82" r="4.8"/><circle cx="906.27" cy="362.68" r="4.8"/><circle cx="908.72" cy="362.63" r="4.8"/><circle cx="908.72" cy="356.57" r="4.8"/><circle cx="910.26" cy="354.21" r="4.8"/><circle cx="907.17" cy="358.00" r="4.8"/><circle cx="908.73" cy="357.02" r="4.8"/><circle cx="907.99" cy="358.60" r="4.8"/><circle cx="910.43" cy="359.97" r="4.8"/><circle cx="907.56" cy="358.85" r="4.8"/><circle cx="911.00" cy="360.60" r="4.8"/><circle cx="907.67" cy="359.52" r="4.8"/><circle cx="907.32" cy="358.95" r="4.8"/><circle cx="909.77" cy="355.38" r="4.8"/><circle cx="908.75" cy="361.97" r="4.8"/><circle cx="906.80" cy="364.83" r="4.8"/><circle cx="909.45" cy="362.41" r="4.8"/><circle cx="906.65" cy="358.13" r="4.8"/><circle cx="910.21" cy="358.27" r="4.8"/><circle cx="909.75" cy="361.74" r="4.8"/><circle cx="910.21" cy="362.51" r="4.8"/><circle cx="909.41" cy="362.39" r="4.8"/><circle cx="908.03" cy="362.70" r="4.8"/><circle cx="908.26" cy="362.08" r="4.8"/><circle cx="908.23" cy="358.31" r="4.8"/><circle cx="910.73" cy="360.61" r="4.8"/><circle cx="906.68" cy="357.10" r="4.8"/><circle cx="910.72" cy="358.61" r="4.8"/><circle cx="906.37" cy="357.39" r="4.8"/><circle cx="907.28" cy="352.93" r="4.8"/><circle cx="907.57" cy="360.49" r="4.8"/><circle cx="910.78" cy="355.33" r="4.8"/><circle cx="908.77" cy="357.39" r="4.8"/><circle cx="908.15" cy="358.42" r="4.8"/><circle cx="910.69" cy="357.62" r="4.8"/><circle cx="907.42" cy="359.36" r="4.8"/><circle cx="908.56" cy="360.37" r="4.8"/><circle cx="908.92" cy="357.66" r="4.8"/><circle cx="910.04" cy="358.54" r="4.8"/><circle cx="910.04" cy="361.63" r="4.8"/><circle cx="909.50" cy="354.68" r="4.8"/><circle cx="908.00" cy="359.70" r="4.8"/><circle cx="907.89" cy="354.81" r="4.8"/><circle cx="907.03" cy="356.94" r="4.8"/><circle cx="910.49" cy="356.67" r="4.8"/><circle cx="909.58" cy="357.46" r="4.8"/><circle cx="909.98" cy="354.38" r="4.8"/><circle cx="907.10" cy="355.32" r="4.8"/><circle cx="908.45" cy="359.49" r="4.8"/><circle cx="910.14" cy="353.05" r="4.8"/><circle cx="909.16" cy="359.57" r="4.8"/><circle cx="906.88" cy="359.60" r="4.8"/><circle cx="908.57" cy="361.62" r="4.8"/><circle cx="910.70" cy="360.01" r="4.8"/><circle cx="907.44" cy="359.46" r="4.8"/><circle cx="907.21" cy="356.10" r="4.8"/><circle cx="907.76" cy="362.39" r="4.8"/><circle cx="943.93" cy="376.01" r="4.8"/><circle cx="941.68" cy="381.05" r="4.8"/><circle cx="940.06" cy="374.15" r="4.8"/><circle cx="944.24" cy="371.27" r="4.8"/><circle cx="939.62" cy="380.76" r="4.8"/><circle cx="943.95" cy="375.75" r="4.8"/><circle cx="940.25" cy="377.59" r="4.8"/><circle cx="941.11" cy="376.77" r="4.8"/><circle cx="943.13" cy="378.30" r="4.8"/><circle cx="943.90" cy="371.53" r="4.8"/><circle cx="940.49" cy="380.55" r="4.8"/><circle cx="939.73" cy="377.87" r="4.8"/><circle cx="939.66" cy="379.02" r="4.8"/><circle cx="942.41" cy="376.04" r="4.8"/><circle cx="942.47" cy="379.37" r="4.8"/><circle cx="944.16" cy="383.08" r="4.8"/><circle cx="942.06" cy="382.72" r="4.8"/><circle cx="942.19" cy="380.03" r="4.8"/><circle cx="943.71" cy="376.72" r="4.8"/><circle cx="943.45" cy="386.43" r="4.8"/><circle cx="941.68" cy="376.72" r="4.8"/><circle cx="943.06" cy="374.41" r="4.8"/><circle cx="941.59" cy="381.88" r="4.8"/><circle cx="939.89" cy="372.91" r="4.8"/><circle cx="942.98" cy="386.79" r="4.8"/><circle cx="942.55" cy="379.65" r="4.8"/><circle cx="944.56" cy="383.16" r="4.8"/><circle cx="942.88" cy="377.64" r="4.8"/><circle cx="940.34" cy="368.49" r="4.8"/><circle cx="943.43" cy="376.34" r="4.8"/><circle cx="942.32" cy="377.68" r="4.8"/><circle cx="939.97" cy="370.24" r="4.8"/><circle cx="941.93" cy="377.54" r="4.8"/><circle cx="944.07" cy="376.57" r="4.8"/><circle cx="942.71" cy="378.84" r="4.8"/><circle cx="941.71" cy="372.93" r="4.8"/><circle cx="939.60" cy="384.29" r="4.8"/><circle cx="942.93" cy="373.93" r="4.8"/><circle cx="944.52" cy="373.09" r="4.8"/><circle cx="943.88" cy="375.03" r="4.8"/><circle cx="940.66" cy="370.25" r="4.8"/><circle cx="940.17" cy="379.91" r="4.8"/><circle cx="941.93" cy="378.14" r="4.8"/><circle cx="940.94" cy="377.26" r="4.8"/><circle cx="942.42" cy="376.68" r="4.8"/><circle cx="941.83" cy="373.75" r="4.8"/><circle cx="943.30" cy="376.12" r="4.8"/><circle cx="944.20" cy="371.97" r="4.8"/><circle cx="941.40" cy="374.80" r="4.8"/><circle cx="943.32" cy="378.58" r="4.8"/><circle cx="943.06" cy="380.33" r="4.8"/><circle cx="940.29" cy="376.77" r="4.8"/><circle cx="943.38" cy="376.37" r="4.8"/><circle cx="941.03" cy="376.27" r="4.8"/><circle cx="942.36" cy="373.53" r="4.8"/><circle cx="942.06" cy="373.65" r="4.8"/><circle cx="942.93" cy="381.82" r="4.8"/><circle cx="944.04" cy="382.77" r="4.8"/><circle cx="944.16" cy="374.83" r="4.8"/><circle cx="939.82" cy="382.76" r="4.8"/><circle cx="974.33" cy="365.34" r="4.8"/><circle cx="977.02" cy="366.36" r="4.8"/><circle cx="976.81" cy="366.81" r="4.8"/><circle cx="974.61" cy="364.86" r="4.8"/><circle cx="975.19" cy="369.36" r="4.8"/><circle cx="973.69" cy="368.27" r="4.8"/><circle cx="977.13" cy="360.49" r="4.8"/><circle cx="976.26" cy="365.48" r="4.8"/><circle cx="977.88" cy="364.59" r="4.8"/><circle cx="978.26" cy="369.89" r="4.8"/><circle cx="976.25" cy="363.31" r="4.8"/><circle cx="975.39" cy="364.89" r="4.8"/><circle cx="975.06" cy="361.83" r="4.8"/><circle cx="976.86" cy="364.96" r="4.8"/><circle cx="978.41" cy="366.25" r="4.8"/><circle cx="974.10" cy="362.82" r="4.8"/><circle cx="975.71" cy="362.12" r="4.8"/><circle cx="977.49" cy="366.18" r="4.8"/><circle cx="974.31" cy="364.86" r="4.8"/><circle cx="976.99" cy="369.23" r="4.8"/><circle cx="974.89" cy="368.52" r="4.8"/><circle cx="976.48" cy="367.66" r="4.8"/><circle cx="978.61" cy="366.01" r="4.8"/><circle cx="973.83" cy="369.62" r="4.8"/><circle cx="977.18" cy="364.41" r="4.8"/><circle cx="976.54" cy="368.47" r="4.8"/><circle cx="977.96" cy="365.22" r="4.8"/><circle cx="975.44" cy="369.50" r="4.8"/><circle cx="978.34" cy="368.37" r="4.8"/><circle cx="978.52" cy="369.29" r="4.8"/><circle cx="974.00" cy="373.98" r="4.8"/><circle cx="975.44" cy="371.19" r="4.8"/><circle cx="974.88" cy="366.58" r="4.8"/><circle cx="977.82" cy="362.84" r="4.8"/><circle cx="978.24" cy="365.83" r="4.8"/><circle cx="977.57" cy="369.13" r="4.8"/><circle cx="978.02" cy="368.05" r="4.8"/><circle cx="976.55" cy="359.34" r="4.8"/><circle cx="978.17" cy="368.19" r="4.8"/><circle cx="975.11" cy="367.26" r="4.8"/><circle cx="974.19" cy="362.35" r="4.8"/><circle cx="977.32" cy="367.78" r="4.8"/><circle cx="975.89" cy="365.29" r="4.8"/><circle cx="973.77" cy="367.57" r="4.8"/><circle cx="977.69" cy="360.68" r="4.8"/><circle cx="974.32" cy="367.97" r="4.8"/><circle cx="974.87" cy="365.66" r="4.8"/><circle cx="974.09" cy="364.56" r="4.8"/><circle cx="976.76" cy="365.55" r="4.8"/><circle cx="974.49" cy="367.81" r="4.8"/><circle cx="975.21" cy="367.66" r="4.8"/><circle cx="976.44" cy="364.01" r="4.8"/><circle cx="978.45" cy="367.48" r="4.8"/><circle cx="973.74" cy="363.61" r="4.8"/><circle cx="978.31" cy="362.51" r="4.8"/><circle cx="977.36" cy="361.50" r="4.8"/><circle cx="974.96" cy="366.50" r="4.8"/><circle cx="977.86" cy="361.02" r="4.8"/><circle cx="976.85" cy="361.54" r="4.8"/><circle cx="975.98" cy="364.03" r="4.8"/><circle cx="1010.71" cy="356.85" r="4.8"/><circle cx="1009.66" cy="366.66" r="4.8"/><circle cx="1010.63" cy="356.81" r="4.8"/><circle cx="1006.88" cy="357.68" r="4.8"/><circle cx="1006.63" cy="362.55" r="4.8"/><circle cx="1010.45" cy="365.94" r="4.8"/><circle cx="1008.19" cy="358.12" r="4.8"/><circle cx="1010.17" cy="366.10" r="4.8"/><circle cx="1008.35" cy="360.29" r="4.8"/><circle cx="1007.42" cy="363.83" r="4.8"/><circle cx="1007.91" cy="359.21" r="4.8"/><circle cx="1007.07" cy="358.62" r="4.8"/><circle cx="1011.12" cy="350.18" r="4.8"/><circle cx="1009.50" cy="362.10" r="4.8"/><circle cx="1008.33" cy="364.24" r="4.8"/><circle cx="1008.83" cy="364.02" r="4.8"/><circle cx="1008.51" cy="360.67" r="4.8"/><circle cx="1006.84" cy="362.35" r="4.8"/><circle cx="1011.05" cy="364.77" r="4.8"/><circle cx="1009.50" cy="368.10" r="4.8"/><circle cx="1011.40" cy="356.95" r="4.8"/><circle cx="1008.78" cy="365.74" r="4.8"/><circle cx="1009.69" cy="362.85" r="4.8"/><circle cx="1007.82" cy="360.61" r="4.8"/><circle cx="1006.79" cy="368.51" r="4.8"/><circle cx="1011.26" cy="363.53" r="4.8"/><circle cx="1010.87" cy="359.70" r="4.8"/><circle cx="1008.15" cy="357.00" r="4.8"/><circle cx="1011.10" cy="363.03" r="4.8"/><circle cx="1010.68" cy="358.10" r="4.8"/><circle cx="1008.10" cy="358.91" r="4.8"/><circle cx="1009.60" cy="361.13" r="4.8"/><circle cx="1011.40" cy="360.87" r="4.8"/><circle cx="1009.06" cy="360.06" r="4.8"/><circle cx="1011.35" cy="367.31" r="4.8"/><circle cx="1007.79" cy="357.41" r="4.8"/><circle cx="1008.53" cy="370.32" r="4.8"/><circle cx="1010.19" cy="369.78" r="4.8"/><circle cx="1007.68" cy="363.33" r="4.8"/><circle cx="1008.13" cy="357.87" r="4.8"/><circle cx="1010.98" cy="357.25" r="4.8"/><circle cx="1009.01" cy="363.02" r="4.8"/><circle cx="1010.56" cy="364.70" r="4.8"/><circle cx="1007.79" cy="357.31" r="4.8"/><circle cx="1007.44" cy="358.50" r="4.8"/><circle cx="1008.37" cy="360.56" r="4.8"/><circle cx="1007.51" cy="358.54" r="4.8"/><circle cx="1011.46" cy="354.42" r="4.8"/><circle cx="1008.03" cy="359.31" r="4.8"/><circle cx="1009.40" cy="362.22" r="4.8"/><circle cx="1007.15" cy="352.00" r="4.8"/><circle cx="1009.26" cy="361.39" r="4.8"/><circle cx="1008.51" cy="351.58" r="4.8"/><circle cx="1008.60" cy="358.55" r="4.8"/><circle cx="1006.90" cy="364.25" r="4.8"/><circle cx="1007.19" cy="366.37" r="4.8"/><circle cx="1010.73" cy="363.75" r="4.8"/><circle cx="1008.34" cy="357.31" r="4.8"/><circle cx="1007.80" cy="353.75" r="4.8"/><circle cx="1007.53" cy="356.31" r="4.8"/><circle cx="1039.52" cy="358.36" r="4.8"/><circle cx="1043.54" cy="359.14" r="4.8"/><circle cx="1042.89" cy="358.73" r="4.8"/><circle cx="1042.35" cy="355.09" r="4.8"/><circle cx="1041.86" cy="361.47" r="4.8"/><circle cx="1042.23" cy="359.25" r="4.8"/><circle cx="1042.10" cy="361.76" r="4.8"/><circle cx="1041.65" cy="360.38" r="4.8"/><circle cx="1042.19" cy="354.60" r="4.8"/><circle cx="1042.65" cy="359.85" r="4.8"/><circle cx="1040.27" cy="358.39" r="4.8"/><circle cx="1041.52" cy="349.93" r="4.8"/><circle cx="1042.56" cy="352.64" r="4.8"/><circle cx="1039.90" cy="351.61" r="4.8"/><circle cx="1043.57" cy="349.96" r="4.8"/><circle cx="1043.13" cy="361.98" r="4.8"/><circle cx="1041.16" cy="353.40" r="4.8"/><circle cx="1042.81" cy="365.64" r="4.8"/><circle cx="1042.34" cy="359.29" r="4.8"/><circle cx="1041.62" cy="358.97" r="4.8"/><circle cx="1041.35" cy="358.70" r="4.8"/><circle cx="1042.80" cy="369.40" r="4.8"/><circle cx="1040.18" cy="355.31" r="4.8"/><circle cx="1043.85" cy="359.02" r="4.8"/><circle cx="1042.17" cy="355.69" r="4.8"/><circle cx="1042.69" cy="368.60" r="4.8"/><circle cx="1043.77" cy="359.15" r="4.8"/><circle cx="1040.61" cy="345.61" r="4.8"/><circle cx="1043.22" cy="366.63" r="4.8"/><circle cx="1042.98" cy="349.71" r="4.8"/><circle cx="1040.23" cy="354.47" r="4.8"/><circle cx="1042.41" cy="356.71" r="4.8"/><circle cx="1042.29" cy="361.34" r="4.8"/><circle cx="1044.24" cy="355.72" r="4.8"/><circle cx="1041.31" cy="360.49" r="4.8"/><circle cx="1040.70" cy="354.63" r="4.8"/><circle cx="1041.72" cy="353.75" r="4.8"/><circle cx="1040.81" cy="362.41" r="4.8"/><circle cx="1040.64" cy="362.07" r="4.8"/><circle cx="1044.37" cy="358.50" r="4.8"/><circle cx="1040.52" cy="366.24" r="4.8"/><circle cx="1043.27" cy="358.19" r="4.8"/><circle cx="1040.61" cy="351.42" r="4.8"/><circle cx="1043.71" cy="347.53" r="4.8"/><circle cx="1042.77" cy="358.08" r="4.8"/><circle cx="1040.44" cy="357.52" r="4.8"/><circle cx="1042.87" cy="350.40" r="4.8"/><circle cx="1043.07" cy="362.06" r="4.8"/><circle cx="1040.64" cy="350.09" r="4.8"/><circle cx="1041.80" cy="357.07" r="4.8"/><circle cx="1042.22" cy="350.07" r="4.8"/><circle cx="1043.00" cy="346.68" r="4.8"/><circle cx="1043.20" cy="354.48" r="4.8"/><circle cx="1044.07" cy="359.74" r="4.8"/><circle cx="1042.35" cy="358.52" r="4.8"/><circle cx="1043.78" cy="360.96" r="4.8"/><circle cx="1042.92" cy="356.52" r="4.8"/><circle cx="1043.52" cy="349.21" r="4.8"/><circle cx="1040.17" cy="359.35" r="4.8"/><circle cx="1042.03" cy="357.03" r="4.8"/><circle cx="1076.97" cy="362.93" r="4.8"/><circle cx="1076.80" cy="360.53" r="4.8"/><circle cx="1076.73" cy="360.34" r="4.8"/><circle cx="1076.34" cy="359.03" r="4.8"/><circle cx="1075.08" cy="361.45" r="4.8"/><circle cx="1074.19" cy="362.66" r="4.8"/><circle cx="1075.99" cy="362.10" r="4.8"/><circle cx="1074.64" cy="359.97" r="4.8"/><circle cx="1076.75" cy="367.75" r="4.8"/><circle cx="1073.49" cy="366.47" r="4.8"/><circle cx="1077.01" cy="364.14" r="4.8"/><circle cx="1076.96" cy="361.40" r="4.8"/><circle cx="1074.38" cy="366.14" r="4.8"/><circle cx="1073.49" cy="362.24" r="4.8"/><circle cx="1076.40" cy="361.43" r="4.8"/><circle cx="1072.55" cy="369.02" r="4.8"/><circle cx="1075.74" cy="362.32" r="4.8"/><circle cx="1072.50" cy="358.99" r="4.8"/><circle cx="1076.48" cy="357.79" r="4.8"/><circle cx="1077.02" cy="362.75" r="4.8"/><circle cx="1075.81" cy="359.60" r="4.8"/><circle cx="1074.19" cy="366.79" r="4.8"/><circle cx="1073.57" cy="369.40" r="4.8"/><circle cx="1074.31" cy="365.63" r="4.8"/><circle cx="1076.99" cy="360.22" r="4.8"/><circle cx="1074.31" cy="359.25" r="4.8"/><circle cx="1075.73" cy="359.33" r="4.8"/><circle cx="1076.75" cy="359.27" r="4.8"/><circle cx="1072.57" cy="362.98" r="4.8"/><circle cx="1072.52" cy="361.55" r="4.8"/><circle cx="1075.99" cy="361.80" r="4.8"/><circle cx="1073.64" cy="363.09" r="4.8"/><circle cx="1074.20" cy="357.03" r="4.8"/><circle cx="1074.06" cy="363.23" r="4.8"/><circle cx="1074.56" cy="356.88" r="4.8"/><circle cx="1073.82" cy="360.15" r="4.8"/><circle cx="1076.85" cy="362.49" r="4.8"/><circle cx="1074.93" cy="365.86" r="4.8"/><circle cx="1077.36" cy="368.54" r="4.8"/><circle cx="1076.40" cy="366.78" r="4.8"/><circle cx="1074.82" cy="364.17" r="4.8"/><circle cx="1077.12" cy="360.49" r="4.8"/><circle cx="1076.29" cy="363.61" r="4.8"/><circle cx="1077.23" cy="360.71" r="4.8"/><circle cx="1073.11" cy="361.13" r="4.8"/><circle cx="1073.93" cy="357.08" r="4.8"/><circle cx="1072.86" cy="357.87" r="4.8"/><circle cx="1072.44" cy="360.72" r="4.8"/><circle cx="1076.81" cy="358.45" r="4.8"/><circle cx="1073.68" cy="361.57" r="4.8"/><circle cx="1074.03" cy="364.18" r="4.8"/><circle cx="1075.49" cy="357.87" r="4.8"/><circle cx="1077.24" cy="361.40" r="4.8"/><circle cx="1073.49" cy="365.48" r="4.8"/><circle cx="1072.68" cy="354.76" r="4.8"/><circle cx="1076.36" cy="358.21" r="4.8"/><circle cx="1076.71" cy="361.26" r="4.8"/><circle cx="1076.12" cy="358.86" r="4.8"/><circle cx="1072.65" cy="361.93" r="4.8"/><circle cx="1076.32" cy="362.67" r="4.8"/><circle cx="1108.61" cy="365.20" r="4.8"/><circle cx="1108.88" cy="361.78" r="4.8"/><circle cx="1105.86" cy="361.38" r="4.8"/><circle cx="1105.59" cy="359.56" r="4.8"/><circle cx="1104.83" cy="362.78" r="4.8"/><circle cx="1107.27" cy="367.21" r="4.8"/><circle cx="1106.45" cy="365.23" r="4.8"/><circle cx="1106.91" cy="365.47" r="4.8"/><circle cx="1107.03" cy="361.29" r="4.8"/><circle cx="1107.51" cy="372.89" r="4.8"/><circle cx="1106.41" cy="356.19" r="4.8"/><circle cx="1108.61" cy="362.28" r="4.8"/><circle cx="1105.58" cy="360.96" r="4.8"/><circle cx="1109.20" cy="362.15" r="4.8"/><circle cx="1107.37" cy="363.35" r="4.8"/><circle cx="1104.83" cy="364.06" r="4.8"/><circle cx="1106.15" cy="363.73" r="4.8"/><circle cx="1107.25" cy="357.34" r="4.8"/><circle cx="1106.63" cy="356.04" r="4.8"/><circle cx="1107.42" cy="364.78" r="4.8"/><circle cx="1106.20" cy="358.54" r="4.8"/><circle cx="1105.95" cy="365.79" r="4.8"/><circle cx="1108.58" cy="360.66" r="4.8"/><circle cx="1106.04" cy="363.41" r="4.8"/><circle cx="1108.15" cy="364.73" r="4.8"/><circle cx="1108.61" cy="364.33" r="4.8"/><circle cx="1107.55" cy="367.61" r="4.8"/><circle cx="1106.86" cy="364.71" r="4.8"/><circle cx="1109.28" cy="365.87" r="4.8"/><circle cx="1106.81" cy="354.76" r="4.8"/><circle cx="1108.99" cy="362.35" r="4.8"/><circle cx="1104.86" cy="365.02" r="4.8"/><circle cx="1106.75" cy="361.20" r="4.8"/><circle cx="1107.79" cy="366.36" r="4.8"/><circle cx="1104.82" cy="360.04" r="4.8"/><circle cx="1108.91" cy="360.03" r="4.8"/><circle cx="1104.93" cy="358.80" r="4.8"/><circle cx="1107.57" cy="368.60" r="4.8"/><circle cx="1105.48" cy="363.97" r="4.8"/><circle cx="1109.22" cy="363.99" r="4.8"/><circle cx="1107.40" cy="372.68" r="4.8"/><circle cx="1108.60" cy="364.66" r="4.8"/><circle cx="1107.08" cy="360.15" r="4.8"/><circle cx="1107.96" cy="359.81" r="4.8"/><circle cx="1107.97" cy="365.69" r="4.8"/><circle cx="1106.06" cy="373.06" r="4.8"/><circle cx="1105.63" cy="361.57" r="4.8"/><circle cx="1108.79" cy="364.24" r="4.8"/><circle cx="1105.30" cy="362.10" r="4.8"/><circle cx="1109.19" cy="358.49" r="4.8"/><circle cx="1105.61" cy="359.13" r="4.8"/><circle cx="1105.08" cy="356.01" r="4.8"/><circle cx="1105.05" cy="359.42" r="4.8"/><circle cx="1108.52" cy="359.67" r="4.8"/><circle cx="1109.36" cy="368.06" r="4.8"/><circle cx="1106.66" cy="367.78" r="4.8"/><circle cx="1107.89" cy="364.62" r="4.8"/><circle cx="1105.87" cy="362.14" r="4.8"/><circle cx="1109.13" cy="366.20" r="4.8"/><circle cx="1108.02" cy="359.08" r="4.8"/><circle cx="1141.98" cy="358.92" r="4.8"/><circle cx="1141.68" cy="351.57" r="4.8"/><circle cx="1143.23" cy="365.22" r="4.8"/><circle cx="1141.97" cy="354.87" r="4.8"/><circle cx="1142.06" cy="361.52" r="4.8"/><circle cx="1141.62" cy="356.98" r="4.8"/><circle cx="1138.95" cy="360.63" r="4.8"/><circle cx="1142.06" cy="368.49" r="4.8"/><circle cx="1139.55" cy="362.25" r="4.8"/><circle cx="1140.37" cy="358.55" r="4.8"/><circle cx="1140.86" cy="359.28" r="4.8"/><circle cx="1139.94" cy="360.01" r="4.8"/><circle cx="1139.61" cy="363.00" r="4.8"/><circle cx="1139.76" cy="355.61" r="4.8"/><circle cx="1139.81" cy="368.21" r="4.8"/><circle cx="1141.84" cy="352.24" r="4.8"/><circle cx="1141.73" cy="361.67" r="4.8"/><circle cx="1142.99" cy="357.67" r="4.8"/><circle cx="1142.34" cy="357.43" r="4.8"/><circle cx="1138.57" cy="361.87" r="4.8"/><circle cx="1141.57" cy="359.43" r="4.8"/><circle cx="1140.75" cy="365.12" r="4.8"/><circle cx="1141.75" cy="355.79" r="4.8"/><circle cx="1138.36" cy="365.23" r="4.8"/><circle cx="1142.68" cy="352.32" r="4.8"/><circle cx="1142.74" cy="359.03" r="4.8"/><circle cx="1138.87" cy="357.37" r="4.8"/><circle cx="1140.17" cy="354.62" r="4.8"/><circle cx="1139.84" cy="363.12" r="4.8"/><circle cx="1140.85" cy="358.37" r="4.8"/><circle cx="1139.04" cy="353.93" r="4.8"/><circle cx="1141.33" cy="365.52" r="4.8"/><circle cx="1140.58" cy="359.40" r="4.8"/><circle cx="1143.05" cy="363.79" r="4.8"/><circle cx="1140.70" cy="361.82" r="4.8"/><circle cx="1138.31" cy="360.75" r="4.8"/><circle cx="1142.99" cy="354.81" r="4.8"/><circle cx="1139.64" cy="364.88" r="4.8"/><circle cx="1139.22" cy="365.27" r="4.8"/><circle cx="1142.89" cy="367.76" r="4.8"/><circle cx="1140.83" cy="358.38" r="4.8"/><circle cx="1143.29" cy="362.22" r="4.8"/><circle cx="1139.14" cy="362.06" r="4.8"/><circle cx="1141.24" cy="356.09" r="4.8"/><circle cx="1143.22" cy="365.70" r="4.8"/><circle cx="1141.43" cy="357.54" r="4.8"/><circle cx="1139.49" cy="353.40" r="4.8"/><circle cx="1142.16" cy="360.74" r="4.8"/><circle cx="1138.40" cy="355.71" r="4.8"/><circle cx="1141.03" cy="353.93" r="4.8"/><circle cx="1140.32" cy="354.48" r="4.8"/><circle cx="1138.69" cy="353.78" r="4.8"/><circle cx="1143.05" cy="356.65" r="4.8"/><circle cx="1141.49" cy="365.67" r="4.8"/><circle cx="1140.75" cy="365.68" r="4.8"/><circle cx="1143.18" cy="360.55" r="4.8"/><circle cx="1140.08" cy="360.78" r="4.8"/><circle cx="1142.82" cy="354.71" r="4.8"/><circle cx="1139.90" cy="355.29" r="4.8"/><circle cx="1142.47" cy="350.18" r="4.8"/><circle cx="1140.77" cy="346.52" r="4.8"/><circle cx="1138.51" cy="370.32" r="4.8"/><circle cx="1170.85" cy="366.55" r="4.8"/><circle cx="1171.84" cy="362.59" r="4.8"/><circle cx="1172.59" cy="365.75" r="4.8"/><circle cx="1175.24" cy="355.01" r="4.8"/><circle cx="1171.30" cy="350.32" r="4.8"/><circle cx="1175.23" cy="361.81" r="4.8"/><circle cx="1175.57" cy="364.34" r="4.8"/><circle cx="1173.02" cy="362.15" r="4.8"/><circle cx="1173.69" cy="372.20" r="4.8"/><circle cx="1175.44" cy="355.14" r="4.8"/><circle cx="1174.26" cy="367.77" r="4.8"/><circle cx="1175.41" cy="354.23" r="4.8"/><circle cx="1174.64" cy="357.38" r="4.8"/><circle cx="1173.68" cy="359.47" r="4.8"/><circle cx="1174.43" cy="359.11" r="4.8"/><circle cx="1175.15" cy="363.55" r="4.8"/><circle cx="1171.66" cy="364.50" r="4.8"/><circle cx="1174.09" cy="359.23" r="4.8"/><circle cx="1175.15" cy="361.97" r="4.8"/><circle cx="1175.79" cy="361.40" r="4.8"/><circle cx="1174.42" cy="364.85" r="4.8"/><circle cx="1173.17" cy="356.40" r="4.8"/><circle cx="1175.24" cy="356.30" r="4.8"/><circle cx="1173.86" cy="361.41" r="4.8"/><circle cx="1171.40" cy="373.06" r="4.8"/><circle cx="1173.32" cy="358.35" r="4.8"/><circle cx="1172.73" cy="362.82" r="4.8"/><circle cx="1174.33" cy="354.49" r="4.8"/><circle cx="1174.84" cy="359.72" r="4.8"/><circle cx="1175.29" cy="362.30" r="4.8"/><circle cx="1170.83" cy="360.32" r="4.8"/><circle cx="1173.66" cy="368.28" r="4.8"/><circle cx="1174.56" cy="365.55" r="4.8"/><circle cx="1171.94" cy="356.82" r="4.8"/><circle cx="1174.53" cy="360.83" r="4.8"/><circle cx="1174.07" cy="368.75" r="4.8"/><circle cx="1172.03" cy="358.05" r="4.8"/><circle cx="1175.38" cy="350.18" r="4.8"/><circle cx="1171.82" cy="363.42" r="4.8"/><circle cx="1170.81" cy="364.90" r="4.8"/><circle cx="1173.16" cy="364.71" r="4.8"/><circle cx="1172.83" cy="366.08" r="4.8"/><circle cx="1175.55" cy="364.75" r="4.8"/><circle cx="1175.64" cy="357.29" r="4.8"/><circle cx="1174.71" cy="362.26" r="4.8"/><circle cx="1171.03" cy="360.35" r="4.8"/><circle cx="1173.61" cy="363.89" r="4.8"/><circle cx="1173.72" cy="358.86" r="4.8"/><circle cx="1172.89" cy="367.07" r="4.8"/><circle cx="1171.02" cy="357.89" r="4.8"/><circle cx="1173.16" cy="363.49" r="4.8"/><circle cx="1173.22" cy="357.46" r="4.8"/><circle cx="1175.62" cy="366.96" r="4.8"/><circle cx="1174.63" cy="367.73" r="4.8"/><circle cx="1175.25" cy="362.16" r="4.8"/><circle cx="1171.29" cy="364.53" r="4.8"/><circle cx="1171.53" cy="368.90" r="4.8"/><circle cx="1173.47" cy="362.70" r="4.8"/><circle cx="1173.91" cy="360.19" r="4.8"/><circle cx="1172.44" cy="361.78" r="4.8"/><circle cx="1173.38" cy="374.89" r="4.8"/><circle cx="1201.88" cy="361.42" r="4.8"/><circle cx="1202.00" cy="361.93" r="4.8"/><circle cx="1203.82" cy="364.90" r="4.8"/><circle cx="1202.28" cy="360.62" r="4.8"/><circle cx="1202.57" cy="359.89" r="4.8"/><circle cx="1203.63" cy="361.59" r="4.8"/><circle cx="1202.01" cy="362.24" r="4.8"/><circle cx="1201.75" cy="362.90" r="4.8"/><circle cx="1203.23" cy="363.44" r="4.8"/><circle cx="1203.77" cy="356.01" r="4.8"/><circle cx="1206.13" cy="365.23" r="4.8"/><circle cx="1204.20" cy="368.02" r="4.8"/><circle cx="1201.77" cy="365.27" r="4.8"/><circle cx="1202.53" cy="357.76" r="4.8"/><circle cx="1205.16" cy="353.01" r="4.8"/><circle cx="1204.24" cy="358.33" r="4.8"/><circle cx="1205.79" cy="350.18" r="4.8"/><circle cx="1206.26" cy="357.12" r="4.8"/><circle cx="1205.73" cy="367.31" r="4.8"/><circle cx="1201.96" cy="363.33" r="4.8"/><circle cx="1206.16" cy="359.16" r="4.8"/><circle cx="1204.05" cy="363.54" r="4.8"/><circle cx="1202.62" cy="354.01" r="4.8"/><circle cx="1202.27" cy="359.47" r="4.8"/><circle cx="1205.76" cy="368.81" r="4.8"/><circle cx="1202.48" cy="366.14" r="4.8"/><circle cx="1201.83" cy="361.00" r="4.8"/><circle cx="1202.75" cy="368.86" r="4.8"/><circle cx="1206.06" cy="363.10" r="4.8"/><circle cx="1203.73" cy="360.27" r="4.8"/><circle cx="1205.09" cy="364.35" r="4.8"/><circle cx="1201.78" cy="363.58" r="4.8"/><circle cx="1203.69" cy="363.30" r="4.8"/><circle cx="1203.01" cy="354.51" r="4.8"/><circle cx="1202.44" cy="361.84" r="4.8"/><circle cx="1204.75" cy="360.60" r="4.8"/><circle cx="1203.23" cy="357.70" r="4.8"/><circle cx="1202.01" cy="366.75" r="4.8"/><circle cx="1206.37" cy="363.87" r="4.8"/><circle cx="1203.83" cy="363.32" r="4.8"/><circle cx="1202.32" cy="362.73" r="4.8"/><circle cx="1201.46" cy="364.83" r="4.8"/><circle cx="1204.70" cy="353.95" r="4.8"/><circle cx="1204.00" cy="359.52" r="4.8"/><circle cx="1201.53" cy="360.83" r="4.8"/><circle cx="1203.78" cy="359.88" r="4.8"/><circle cx="1205.14" cy="370.12" r="4.8"/><circle cx="1204.11" cy="367.87" r="4.8"/><circle cx="1202.59" cy="373.06" r="4.8"/><circle cx="1203.92" cy="365.65" r="4.8"/><circle cx="1204.46" cy="356.74" r="4.8"/><circle cx="1204.69" cy="360.20" r="4.8"/><circle cx="1202.14" cy="357.81" r="4.8"/><circle cx="1205.46" cy="363.67" r="4.8"/><circle cx="1206.17" cy="356.70" r="4.8"/><circle cx="1205.14" cy="364.63" r="4.8"/><circle cx="1205.73" cy="357.38" r="4.8"/><circle cx="1203.26" cy="363.25" r="4.8"/><circle cx="1205.96" cy="361.27" r="4.8"/><circle cx="1202.32" cy="359.18" r="4.8"/><circle cx="1202.55" cy="342.86" r="4.8"/><circle cx="1204.42" cy="346.52" r="4.8"/><circle cx="1205.95" cy="376.72" r="4.8"/></g>
<line x1="736.00" y1="478.3" x2="736.00" y2="472.8" stroke="#6e6e6e" stroke-width="1.2"/>
<line x1="736.00" y1="66.5" x2="736.00" y2="72.0" stroke="#6e6e6e" stroke-width="1.2"/>
<line x1="813.47" y1="478.3" x2="813.47" y2="472.8" stroke="#6e6e6e" stroke-width="1.2"/>
<line x1="813.47" y1="66.5" x2="813.47" y2="72.0" stroke="#6e6e6e" stroke-width="1.2"/>
<line x1="890.94" y1="478.3" x2="890.94" y2="472.8" stroke="#6e6e6e" stroke-width="1.2"/>
<line x1="890.94" y1="66.5" x2="890.94" y2="72.0" stroke="#6e6e6e" stroke-width="1.2"/>
<line x1="968.41" y1="478.3" x2="968.41" y2="472.8" stroke="#6e6e6e" stroke-width="1.2"/>
<line x1="968.41" y1="66.5" x2="968.41" y2="72.0" stroke="#6e6e6e" stroke-width="1.2"/>
<line x1="1045.89" y1="478.3" x2="1045.89" y2="472.8" stroke="#6e6e6e" stroke-width="1.2"/>
<line x1="1045.89" y1="66.5" x2="1045.89" y2="72.0" stroke="#6e6e6e" stroke-width="1.2"/>
<line x1="1123.36" y1="478.3" x2="1123.36" y2="472.8" stroke="#6e6e6e" stroke-width="1.2"/>
<line x1="1123.36" y1="66.5" x2="1123.36" y2="72.0" stroke="#6e6e6e" stroke-width="1.2"/>
<line x1="1200.83" y1="478.3" x2="1200.83" y2="472.8" stroke="#6e6e6e" stroke-width="1.2"/>
<line x1="1200.83" y1="66.5" x2="1200.83" y2="72.0" stroke="#6e6e6e" stroke-width="1.2"/>
<line x1="1278.30" y1="478.3" x2="1278.30" y2="472.8" stroke="#6e6e6e" stroke-width="1.2"/>
<line x1="1278.30" y1="66.5" x2="1278.30" y2="72.0" stroke="#6e6e6e" stroke-width="1.2"/>
<line x1="736.0" y1="432.54" x2="741.5" y2="432.54" stroke="#6e6e6e" stroke-width="1.2"/>
<line x1="1278.3" y1="432.54" x2="1272.8" y2="432.54" stroke="#6e6e6e" stroke-width="1.2"/>
<line x1="736.0" y1="341.03" x2="741.5" y2="341.03" stroke="#6e6e6e" stroke-width="1.2"/>
<line x1="1278.3" y1="341.03" x2="1272.8" y2="341.03" stroke="#6e6e6e" stroke-width="1.2"/>
<line x1="736.0" y1="249.52" x2="741.5" y2="249.52" stroke="#6e6e6e" stroke-width="1.2"/>
<line x1="1278.3" y1="249.52" x2="1272.8" y2="249.52" stroke="#6e6e6e" stroke-width="1.2"/>
<line x1="736.0" y1="158.01" x2="741.5" y2="158.01" stroke="#6e6e6e" stroke-width="1.2"/>
<line x1="1278.3" y1="158.01" x2="1272.8" y2="158.01" stroke="#6e6e6e" stroke-width="1.2"/>
<line x1="736.0" y1="66.50" x2="741.5" y2="66.50" stroke="#6e6e6e" stroke-width="1.2"/>
<line x1="1278.3" y1="66.50" x2="1272.8" y2="66.50" stroke="#6e6e6e" stroke-width="1.2"/>
<rect x="736.0" y="66.5" width="542.30" height="411.80" fill="none" stroke="#6e6e6e" stroke-width="1.3"/>
<text transform="translate(736.00 511.5) scale(1 1.04)" font-size="27" text-anchor="middle">0</text>
<text transform="translate(813.47 511.5) scale(1 1.04)" font-size="27" text-anchor="middle">20</text>
<text transform="translate(890.94 511.5) scale(1 1.04)" font-size="27" text-anchor="middle">40</text>
<text transform="translate(968.41 511.5) scale(1 1.04)" font-size="27" text-anchor="middle">60</text>
<text transform="translate(1045.89 511.5) scale(1 1.04)" font-size="27" text-anchor="middle">80</text>
<text transform="translate(1123.36 511.5) scale(1 1.04)" font-size="27" text-anchor="middle">100</text>
<text transform="translate(1200.83 511.5) scale(1 1.04)" font-size="27" text-anchor="middle">120</text>
<text transform="translate(1278.30 511.5) scale(1 1.04)" font-size="27" text-anchor="middle">140</text>
<text transform="translate(726.3 441.34) scale(1 1.04)" font-size="27" text-anchor="end">0</text>
<text transform="translate(726.3 349.83) scale(1 1.04)" font-size="27" text-anchor="end">10</text>
<text transform="translate(726.3 258.32) scale(1 1.04)" font-size="27" text-anchor="end">20</text>
<text transform="translate(726.3 166.81) scale(1 1.04)" font-size="27" text-anchor="end">30</text>
<text transform="translate(726.3 75.30) scale(1 1.04)" font-size="27" text-anchor="end">40</text>
<rect x="745.5" y="76.5" width="179.4" height="61.9" fill="#fff" stroke="#444" stroke-width="1.2"/>
<circle cx="760.6" cy="91.4" r="6.5" fill="none" stroke="#000" stroke-width="1.5"/>
<circle cx="760.6" cy="121.7" r="6.5" fill="none" stroke="#0000ff" stroke-width="1.5"/>
<text transform="translate(775.0 98.6) scale(1 1.06)" font-size="21.7">Estimated (RI)</text>
<text transform="translate(775.0 128.8) scale(1 1.06)" font-size="21.7">Estimated (RD)</text>
<text transform="translate(1006.6 545.7) scale(1 1.05)" font-size="29.2" text-anchor="middle">True range (km)</text>
<text transform="translate(689.5 272.4) rotate(-90) scale(1 1.05)" font-size="29.2" text-anchor="middle">Range error (%)</text>
</g>
<text x="16.9" y="23.8" font-family='"Liberation Sans", sans-serif' font-weight="bold" font-size="30.2" fill="#000" stroke="#000" stroke-width="0.4">A</text>
<text transform="translate(674.7 23.9) scale(0.92 1)" font-family='"Liberation Sans", sans-serif' font-weight="bold" font-size="30.2" fill="#000" stroke="#000" stroke-width="0.4">B</text>
</svg></body></html>
